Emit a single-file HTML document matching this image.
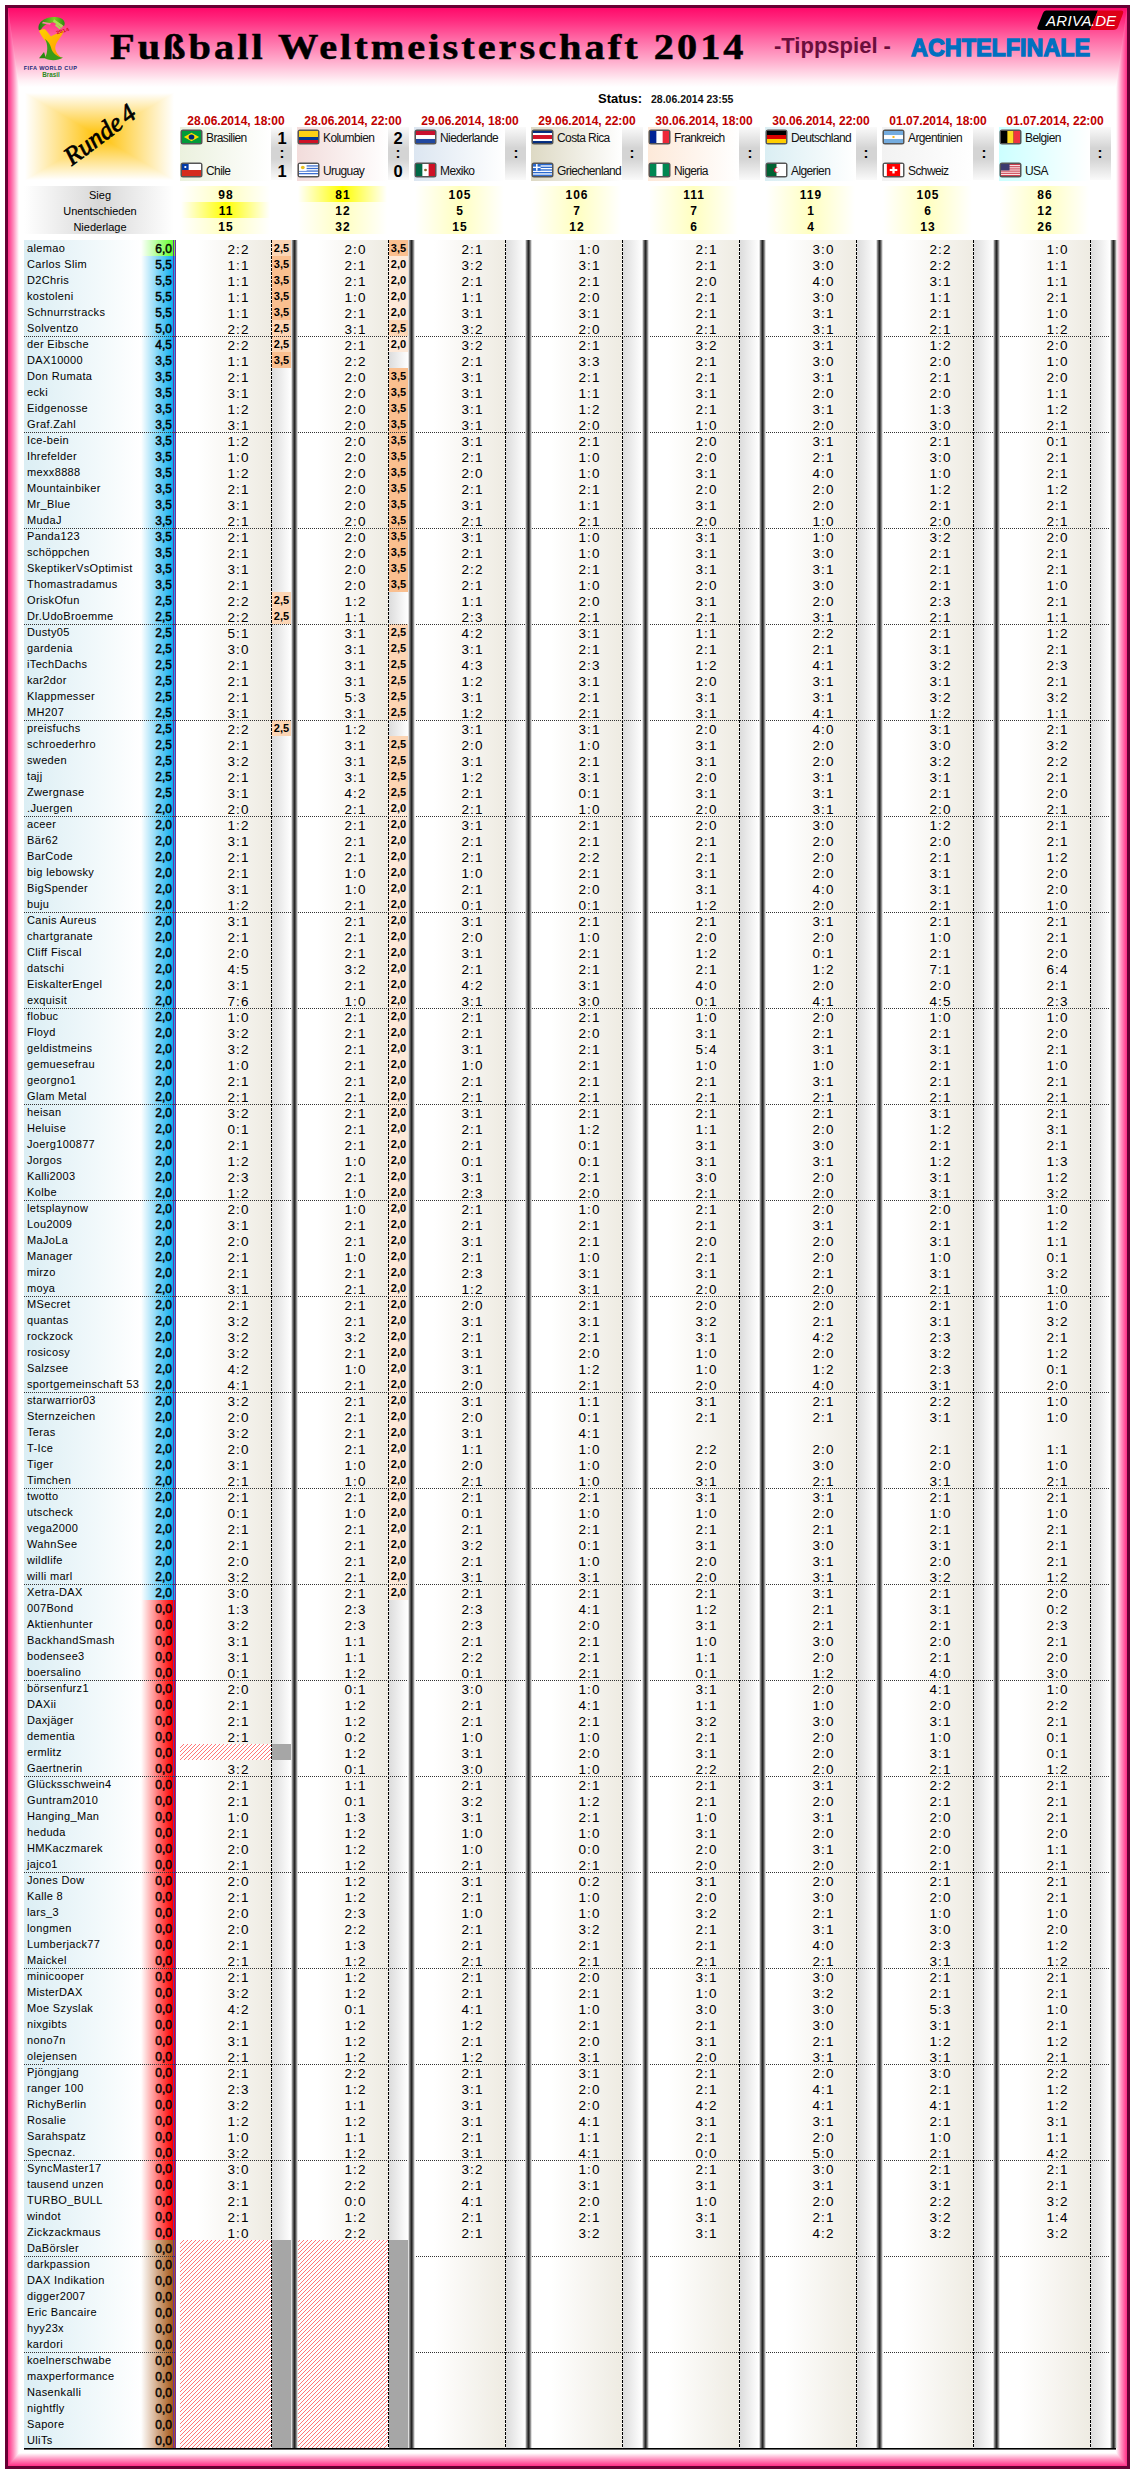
<!DOCTYPE html>
<html><head><meta charset="utf-8"><style>
*{margin:0;padding:0;box-sizing:border-box}
html,body{width:1135px;height:2474px;background:#fff;overflow:hidden}
body{position:relative;font-family:"Liberation Sans",sans-serif;color:#000}
.a{position:absolute}
.r{position:absolute;left:0;width:1135px;height:16px;white-space:nowrap}
.r>*{position:absolute;top:0;height:16px;line-height:16px;font-style:normal}
.nm{left:27px;font-size:11px;letter-spacing:0.35px;color:#000}
.sc{left:141px;width:35px;text-align:right;padding-right:4px;padding-top:1px;font-size:12px;font-weight:normal;-webkit-text-stroke:0.45px #000}
.sg{background:linear-gradient(to right,rgba(102,255,51,0),#66ff33 90%)}
.sb{background:linear-gradient(to right,rgba(0,176,240,0),#10b0f0 90%)}
.sr{background:linear-gradient(to right,rgba(255,0,0,0),#ff0000 90%)}
.sw{background:linear-gradient(to right,rgba(170,95,30,0),#a85a1a 90%)}
.t{font-size:13.5px;letter-spacing:1.1px;text-align:center;width:60px;padding-top:2px;padding-left:1px;color:#000}
.p{font-size:11px;font-weight:bold;text-align:center;width:19px}
.o2{background:#fde9d9}.o5{background:#fcd5b4}.o7{background:#fabf8f}
.pe{background:linear-gradient(to right,#dcdcdc,#fff)}
.pg{background:#a6a6a6}
.h{background:repeating-linear-gradient(-45deg,#fff 0,#fff 2px,#ff8080 2px,#ff8080 3px)}
</style></head><body>

<div class="a" style="left:5px;top:5px;width:1125px;height:2464px;background:#660033"></div>
<svg class="a" style="left:8px;top:8px" width="1119" height="2458" viewBox="8 8 1119 2458">
<defs>
<linearGradient id="gt" x1="0" y1="8" x2="0" y2="87" gradientUnits="userSpaceOnUse">
<stop offset="0" stop-color="#ff0a6a"/><stop offset="0.16" stop-color="#ff2c80"/><stop offset="0.41" stop-color="#ff6ea8"/><stop offset="0.66" stop-color="#ffaacb"/><stop offset="0.92" stop-color="#fff0f5"/><stop offset="1" stop-color="#fff"/></linearGradient>
<linearGradient id="gl" x1="8" y1="0" x2="19" y2="0" gradientUnits="userSpaceOnUse">
<stop offset="0" stop-color="#ff2d86"/><stop offset="0.5" stop-color="#ff90be"/><stop offset="1" stop-color="#fff"/></linearGradient>
<linearGradient id="gr" x1="1127" y1="0" x2="1116" y2="0" gradientUnits="userSpaceOnUse">
<stop offset="0" stop-color="#ff2d86"/><stop offset="0.5" stop-color="#ff90be"/><stop offset="1" stop-color="#fff"/></linearGradient>
<linearGradient id="gb" x1="0" y1="2466" x2="0" y2="2453" gradientUnits="userSpaceOnUse">
<stop offset="0" stop-color="#ff2d86"/><stop offset="0.5" stop-color="#ff90be"/><stop offset="1" stop-color="#fff"/></linearGradient>
</defs>
<rect x="8" y="8" width="1119" height="2458" fill="#fff"/>
<rect x="8" y="8" width="11" height="2458" fill="url(#gl)"/>
<rect x="1116" y="8" width="11" height="2458" fill="url(#gr)"/>
<polygon points="8,2466 19,2453 1116,2453 1127,2466" fill="url(#gb)"/>
<polygon points="8,8 1127,8 1116,87 19,87" fill="url(#gt)"/>
</svg>

<div class="a" style="left:24px;top:240px;width:117px;height:2208px;background:linear-gradient(to right,#dbeef4,#fff)"></div>
<div class="a" style="left:176px;top:240px;width:95px;height:2208px;background:linear-gradient(to right,#fff 22%,#eeebe2)"></div>
<div class="a" style="left:272px;top:240px;width:19px;height:2208px;background:#fff"></div>
<div class="a" style="left:297px;top:240px;width:91px;height:2208px;background:linear-gradient(to right,#fff 22%,#eeebe2)"></div>
<div class="a" style="left:389px;top:240px;width:19px;height:2208px;background:#fff"></div>
<div class="a" style="left:414px;top:240px;width:91px;height:2208px;background:linear-gradient(to right,#fff 22%,#eeebe2)"></div>
<div class="a" style="left:506px;top:240px;width:19px;height:2208px;background:linear-gradient(to right,#dcdcdc,#fff)"></div>
<div class="a" style="left:531px;top:240px;width:91px;height:2208px;background:linear-gradient(to right,#fff 22%,#eeebe2)"></div>
<div class="a" style="left:623px;top:240px;width:19px;height:2208px;background:linear-gradient(to right,#dcdcdc,#fff)"></div>
<div class="a" style="left:648px;top:240px;width:91px;height:2208px;background:linear-gradient(to right,#fff 22%,#eeebe2)"></div>
<div class="a" style="left:740px;top:240px;width:19px;height:2208px;background:linear-gradient(to right,#dcdcdc,#fff)"></div>
<div class="a" style="left:765px;top:240px;width:91px;height:2208px;background:linear-gradient(to right,#fff 22%,#eeebe2)"></div>
<div class="a" style="left:857px;top:240px;width:19px;height:2208px;background:linear-gradient(to right,#dcdcdc,#fff)"></div>
<div class="a" style="left:882px;top:240px;width:91px;height:2208px;background:linear-gradient(to right,#fff 22%,#eeebe2)"></div>
<div class="a" style="left:974px;top:240px;width:19px;height:2208px;background:linear-gradient(to right,#dcdcdc,#fff)"></div>
<div class="a" style="left:999px;top:240px;width:91px;height:2208px;background:linear-gradient(to right,#fff 22%,#eeebe2)"></div>
<div class="a" style="left:1091px;top:240px;width:19px;height:2208px;background:linear-gradient(to right,#dcdcdc,#fff)"></div>
<div class="r" style="top:240px"><i class="nm">alemao</i><b class="sc sg">6,0</b><b class="p o5" style="left:272px">2,5</b><i class="t" style="left:208px">2:2</i><b class="p o7" style="left:389px">3,5</b><i class="t" style="left:325px">2:0</i><i class="t" style="left:442px">2:1</i><i class="t" style="left:559px">1:0</i><i class="t" style="left:676px">2:1</i><i class="t" style="left:793px">3:0</i><i class="t" style="left:910px">2:2</i><i class="t" style="left:1027px">1:0</i></div>
<div class="r" style="top:256px"><i class="nm">Carlos Slim</i><b class="sc sb">5,5</b><b class="p o7" style="left:272px">3,5</b><i class="t" style="left:208px">1:1</i><b class="p o2" style="left:389px">2,0</b><i class="t" style="left:325px">2:1</i><i class="t" style="left:442px">3:2</i><i class="t" style="left:559px">3:1</i><i class="t" style="left:676px">2:1</i><i class="t" style="left:793px">3:0</i><i class="t" style="left:910px">2:2</i><i class="t" style="left:1027px">1:1</i></div>
<div class="r" style="top:272px"><i class="nm">D2Chris</i><b class="sc sb">5,5</b><b class="p o7" style="left:272px">3,5</b><i class="t" style="left:208px">1:1</i><b class="p o2" style="left:389px">2,0</b><i class="t" style="left:325px">2:1</i><i class="t" style="left:442px">2:1</i><i class="t" style="left:559px">2:1</i><i class="t" style="left:676px">2:0</i><i class="t" style="left:793px">4:0</i><i class="t" style="left:910px">3:1</i><i class="t" style="left:1027px">1:1</i></div>
<div class="r" style="top:288px"><i class="nm">kostoleni</i><b class="sc sb">5,5</b><b class="p o7" style="left:272px">3,5</b><i class="t" style="left:208px">1:1</i><b class="p o2" style="left:389px">2,0</b><i class="t" style="left:325px">1:0</i><i class="t" style="left:442px">1:1</i><i class="t" style="left:559px">2:0</i><i class="t" style="left:676px">2:1</i><i class="t" style="left:793px">3:0</i><i class="t" style="left:910px">1:1</i><i class="t" style="left:1027px">2:1</i></div>
<div class="r" style="top:304px"><i class="nm">Schnurrstracks</i><b class="sc sb">5,5</b><b class="p o7" style="left:272px">3,5</b><i class="t" style="left:208px">1:1</i><b class="p o2" style="left:389px">2,0</b><i class="t" style="left:325px">2:1</i><i class="t" style="left:442px">3:1</i><i class="t" style="left:559px">3:1</i><i class="t" style="left:676px">2:1</i><i class="t" style="left:793px">3:1</i><i class="t" style="left:910px">2:1</i><i class="t" style="left:1027px">1:0</i></div>
<div class="r" style="top:320px"><i class="nm">Solventzo</i><b class="sc sb">5,0</b><b class="p o5" style="left:272px">2,5</b><i class="t" style="left:208px">2:2</i><b class="p o5" style="left:389px">2,5</b><i class="t" style="left:325px">3:1</i><i class="t" style="left:442px">3:2</i><i class="t" style="left:559px">2:0</i><i class="t" style="left:676px">2:1</i><i class="t" style="left:793px">3:1</i><i class="t" style="left:910px">2:1</i><i class="t" style="left:1027px">1:2</i></div>
<div class="r" style="top:336px"><i class="nm">der Eibsche</i><b class="sc sb">4,5</b><b class="p o5" style="left:272px">2,5</b><i class="t" style="left:208px">2:2</i><b class="p o2" style="left:389px">2,0</b><i class="t" style="left:325px">2:1</i><i class="t" style="left:442px">3:2</i><i class="t" style="left:559px">2:1</i><i class="t" style="left:676px">3:2</i><i class="t" style="left:793px">3:1</i><i class="t" style="left:910px">1:2</i><i class="t" style="left:1027px">2:0</i></div>
<div class="r" style="top:352px"><i class="nm">DAX10000</i><b class="sc sb">3,5</b><b class="p o7" style="left:272px">3,5</b><i class="t" style="left:208px">1:1</i><i class="p pe" style="left:389px"></i><i class="t" style="left:325px">2:2</i><i class="t" style="left:442px">2:1</i><i class="t" style="left:559px">3:3</i><i class="t" style="left:676px">2:1</i><i class="t" style="left:793px">3:0</i><i class="t" style="left:910px">2:0</i><i class="t" style="left:1027px">1:0</i></div>
<div class="r" style="top:368px"><i class="nm">Don Rumata</i><b class="sc sb">3,5</b><i class="p pe" style="left:272px"></i><i class="t" style="left:208px">2:1</i><b class="p o7" style="left:389px">3,5</b><i class="t" style="left:325px">2:0</i><i class="t" style="left:442px">3:1</i><i class="t" style="left:559px">2:1</i><i class="t" style="left:676px">2:1</i><i class="t" style="left:793px">3:1</i><i class="t" style="left:910px">2:1</i><i class="t" style="left:1027px">2:0</i></div>
<div class="r" style="top:384px"><i class="nm">ecki</i><b class="sc sb">3,5</b><i class="p pe" style="left:272px"></i><i class="t" style="left:208px">3:1</i><b class="p o7" style="left:389px">3,5</b><i class="t" style="left:325px">2:0</i><i class="t" style="left:442px">3:1</i><i class="t" style="left:559px">1:1</i><i class="t" style="left:676px">3:1</i><i class="t" style="left:793px">2:0</i><i class="t" style="left:910px">2:0</i><i class="t" style="left:1027px">1:1</i></div>
<div class="r" style="top:400px"><i class="nm">Eidgenosse</i><b class="sc sb">3,5</b><i class="p pe" style="left:272px"></i><i class="t" style="left:208px">1:2</i><b class="p o7" style="left:389px">3,5</b><i class="t" style="left:325px">2:0</i><i class="t" style="left:442px">3:1</i><i class="t" style="left:559px">1:2</i><i class="t" style="left:676px">2:1</i><i class="t" style="left:793px">3:1</i><i class="t" style="left:910px">1:3</i><i class="t" style="left:1027px">1:2</i></div>
<div class="r" style="top:416px"><i class="nm">Graf.Zahl</i><b class="sc sb">3,5</b><i class="p pe" style="left:272px"></i><i class="t" style="left:208px">3:1</i><b class="p o7" style="left:389px">3,5</b><i class="t" style="left:325px">2:0</i><i class="t" style="left:442px">3:1</i><i class="t" style="left:559px">2:0</i><i class="t" style="left:676px">1:0</i><i class="t" style="left:793px">2:0</i><i class="t" style="left:910px">3:0</i><i class="t" style="left:1027px">2:1</i></div>
<div class="r" style="top:432px"><i class="nm">Ice-bein</i><b class="sc sb">3,5</b><i class="p pe" style="left:272px"></i><i class="t" style="left:208px">1:2</i><b class="p o7" style="left:389px">3,5</b><i class="t" style="left:325px">2:0</i><i class="t" style="left:442px">3:1</i><i class="t" style="left:559px">2:1</i><i class="t" style="left:676px">2:0</i><i class="t" style="left:793px">3:1</i><i class="t" style="left:910px">2:1</i><i class="t" style="left:1027px">0:1</i></div>
<div class="r" style="top:448px"><i class="nm">Ihrefelder</i><b class="sc sb">3,5</b><i class="p pe" style="left:272px"></i><i class="t" style="left:208px">1:0</i><b class="p o7" style="left:389px">3,5</b><i class="t" style="left:325px">2:0</i><i class="t" style="left:442px">2:1</i><i class="t" style="left:559px">1:0</i><i class="t" style="left:676px">2:0</i><i class="t" style="left:793px">2:1</i><i class="t" style="left:910px">3:0</i><i class="t" style="left:1027px">2:1</i></div>
<div class="r" style="top:464px"><i class="nm">mexx8888</i><b class="sc sb">3,5</b><i class="p pe" style="left:272px"></i><i class="t" style="left:208px">1:2</i><b class="p o7" style="left:389px">3,5</b><i class="t" style="left:325px">2:0</i><i class="t" style="left:442px">2:0</i><i class="t" style="left:559px">1:0</i><i class="t" style="left:676px">3:1</i><i class="t" style="left:793px">4:0</i><i class="t" style="left:910px">1:0</i><i class="t" style="left:1027px">2:1</i></div>
<div class="r" style="top:480px"><i class="nm">Mountainbiker</i><b class="sc sb">3,5</b><i class="p pe" style="left:272px"></i><i class="t" style="left:208px">2:1</i><b class="p o7" style="left:389px">3,5</b><i class="t" style="left:325px">2:0</i><i class="t" style="left:442px">2:1</i><i class="t" style="left:559px">2:1</i><i class="t" style="left:676px">2:0</i><i class="t" style="left:793px">2:0</i><i class="t" style="left:910px">1:2</i><i class="t" style="left:1027px">1:2</i></div>
<div class="r" style="top:496px"><i class="nm">Mr_Blue</i><b class="sc sb">3,5</b><i class="p pe" style="left:272px"></i><i class="t" style="left:208px">3:1</i><b class="p o7" style="left:389px">3,5</b><i class="t" style="left:325px">2:0</i><i class="t" style="left:442px">3:1</i><i class="t" style="left:559px">1:1</i><i class="t" style="left:676px">3:1</i><i class="t" style="left:793px">2:0</i><i class="t" style="left:910px">2:1</i><i class="t" style="left:1027px">2:1</i></div>
<div class="r" style="top:512px"><i class="nm">MudaJ</i><b class="sc sb">3,5</b><i class="p pe" style="left:272px"></i><i class="t" style="left:208px">2:1</i><b class="p o7" style="left:389px">3,5</b><i class="t" style="left:325px">2:0</i><i class="t" style="left:442px">2:1</i><i class="t" style="left:559px">2:1</i><i class="t" style="left:676px">2:0</i><i class="t" style="left:793px">1:0</i><i class="t" style="left:910px">2:0</i><i class="t" style="left:1027px">2:1</i></div>
<div class="r" style="top:528px"><i class="nm">Panda123</i><b class="sc sb">3,5</b><i class="p pe" style="left:272px"></i><i class="t" style="left:208px">2:1</i><b class="p o7" style="left:389px">3,5</b><i class="t" style="left:325px">2:0</i><i class="t" style="left:442px">3:1</i><i class="t" style="left:559px">1:0</i><i class="t" style="left:676px">3:1</i><i class="t" style="left:793px">1:0</i><i class="t" style="left:910px">3:2</i><i class="t" style="left:1027px">2:0</i></div>
<div class="r" style="top:544px"><i class="nm">schöppchen</i><b class="sc sb">3,5</b><i class="p pe" style="left:272px"></i><i class="t" style="left:208px">2:1</i><b class="p o7" style="left:389px">3,5</b><i class="t" style="left:325px">2:0</i><i class="t" style="left:442px">2:1</i><i class="t" style="left:559px">1:0</i><i class="t" style="left:676px">3:1</i><i class="t" style="left:793px">3:0</i><i class="t" style="left:910px">2:1</i><i class="t" style="left:1027px">2:1</i></div>
<div class="r" style="top:560px"><i class="nm">SkeptikerVsOptimist</i><b class="sc sb">3,5</b><i class="p pe" style="left:272px"></i><i class="t" style="left:208px">3:1</i><b class="p o7" style="left:389px">3,5</b><i class="t" style="left:325px">2:0</i><i class="t" style="left:442px">2:2</i><i class="t" style="left:559px">2:1</i><i class="t" style="left:676px">3:1</i><i class="t" style="left:793px">3:1</i><i class="t" style="left:910px">2:1</i><i class="t" style="left:1027px">2:1</i></div>
<div class="r" style="top:576px"><i class="nm">Thomastradamus</i><b class="sc sb">3,5</b><i class="p pe" style="left:272px"></i><i class="t" style="left:208px">2:1</i><b class="p o7" style="left:389px">3,5</b><i class="t" style="left:325px">2:0</i><i class="t" style="left:442px">2:1</i><i class="t" style="left:559px">1:0</i><i class="t" style="left:676px">2:0</i><i class="t" style="left:793px">3:0</i><i class="t" style="left:910px">2:1</i><i class="t" style="left:1027px">1:0</i></div>
<div class="r" style="top:592px"><i class="nm">OriskOfun</i><b class="sc sb">2,5</b><b class="p o5" style="left:272px">2,5</b><i class="t" style="left:208px">2:2</i><i class="p pe" style="left:389px"></i><i class="t" style="left:325px">1:2</i><i class="t" style="left:442px">1:1</i><i class="t" style="left:559px">2:0</i><i class="t" style="left:676px">3:1</i><i class="t" style="left:793px">2:0</i><i class="t" style="left:910px">2:3</i><i class="t" style="left:1027px">2:1</i></div>
<div class="r" style="top:608px"><i class="nm">Dr.UdoBroemme</i><b class="sc sb">2,5</b><b class="p o5" style="left:272px">2,5</b><i class="t" style="left:208px">2:2</i><i class="p pe" style="left:389px"></i><i class="t" style="left:325px">1:1</i><i class="t" style="left:442px">2:3</i><i class="t" style="left:559px">2:1</i><i class="t" style="left:676px">2:1</i><i class="t" style="left:793px">3:1</i><i class="t" style="left:910px">2:1</i><i class="t" style="left:1027px">1:1</i></div>
<div class="r" style="top:624px"><i class="nm">Dusty05</i><b class="sc sb">2,5</b><i class="p pe" style="left:272px"></i><i class="t" style="left:208px">5:1</i><b class="p o5" style="left:389px">2,5</b><i class="t" style="left:325px">3:1</i><i class="t" style="left:442px">4:2</i><i class="t" style="left:559px">3:1</i><i class="t" style="left:676px">1:1</i><i class="t" style="left:793px">2:2</i><i class="t" style="left:910px">2:1</i><i class="t" style="left:1027px">1:2</i></div>
<div class="r" style="top:640px"><i class="nm">gardenia</i><b class="sc sb">2,5</b><i class="p pe" style="left:272px"></i><i class="t" style="left:208px">3:0</i><b class="p o5" style="left:389px">2,5</b><i class="t" style="left:325px">3:1</i><i class="t" style="left:442px">3:1</i><i class="t" style="left:559px">2:1</i><i class="t" style="left:676px">2:1</i><i class="t" style="left:793px">2:1</i><i class="t" style="left:910px">3:1</i><i class="t" style="left:1027px">2:1</i></div>
<div class="r" style="top:656px"><i class="nm">iTechDachs</i><b class="sc sb">2,5</b><i class="p pe" style="left:272px"></i><i class="t" style="left:208px">2:1</i><b class="p o5" style="left:389px">2,5</b><i class="t" style="left:325px">3:1</i><i class="t" style="left:442px">4:3</i><i class="t" style="left:559px">2:3</i><i class="t" style="left:676px">1:2</i><i class="t" style="left:793px">4:1</i><i class="t" style="left:910px">3:2</i><i class="t" style="left:1027px">2:3</i></div>
<div class="r" style="top:672px"><i class="nm">kar2dor</i><b class="sc sb">2,5</b><i class="p pe" style="left:272px"></i><i class="t" style="left:208px">2:1</i><b class="p o5" style="left:389px">2,5</b><i class="t" style="left:325px">3:1</i><i class="t" style="left:442px">1:2</i><i class="t" style="left:559px">3:1</i><i class="t" style="left:676px">2:0</i><i class="t" style="left:793px">3:1</i><i class="t" style="left:910px">3:1</i><i class="t" style="left:1027px">2:1</i></div>
<div class="r" style="top:688px"><i class="nm">Klappmesser</i><b class="sc sb">2,5</b><i class="p pe" style="left:272px"></i><i class="t" style="left:208px">2:1</i><b class="p o5" style="left:389px">2,5</b><i class="t" style="left:325px">5:3</i><i class="t" style="left:442px">3:1</i><i class="t" style="left:559px">2:1</i><i class="t" style="left:676px">3:1</i><i class="t" style="left:793px">3:1</i><i class="t" style="left:910px">3:2</i><i class="t" style="left:1027px">3:2</i></div>
<div class="r" style="top:704px"><i class="nm">MH207</i><b class="sc sb">2,5</b><i class="p pe" style="left:272px"></i><i class="t" style="left:208px">3:1</i><b class="p o5" style="left:389px">2,5</b><i class="t" style="left:325px">3:1</i><i class="t" style="left:442px">1:2</i><i class="t" style="left:559px">2:1</i><i class="t" style="left:676px">3:1</i><i class="t" style="left:793px">4:1</i><i class="t" style="left:910px">1:2</i><i class="t" style="left:1027px">1:1</i></div>
<div class="r" style="top:720px"><i class="nm">preisfuchs</i><b class="sc sb">2,5</b><b class="p o5" style="left:272px">2,5</b><i class="t" style="left:208px">2:2</i><i class="p pe" style="left:389px"></i><i class="t" style="left:325px">1:2</i><i class="t" style="left:442px">3:1</i><i class="t" style="left:559px">3:1</i><i class="t" style="left:676px">2:0</i><i class="t" style="left:793px">4:0</i><i class="t" style="left:910px">3:1</i><i class="t" style="left:1027px">2:1</i></div>
<div class="r" style="top:736px"><i class="nm">schroederhro</i><b class="sc sb">2,5</b><i class="p pe" style="left:272px"></i><i class="t" style="left:208px">2:1</i><b class="p o5" style="left:389px">2,5</b><i class="t" style="left:325px">3:1</i><i class="t" style="left:442px">2:0</i><i class="t" style="left:559px">1:0</i><i class="t" style="left:676px">3:1</i><i class="t" style="left:793px">2:0</i><i class="t" style="left:910px">3:0</i><i class="t" style="left:1027px">3:2</i></div>
<div class="r" style="top:752px"><i class="nm">sweden</i><b class="sc sb">2,5</b><i class="p pe" style="left:272px"></i><i class="t" style="left:208px">3:2</i><b class="p o5" style="left:389px">2,5</b><i class="t" style="left:325px">3:1</i><i class="t" style="left:442px">3:1</i><i class="t" style="left:559px">2:1</i><i class="t" style="left:676px">3:1</i><i class="t" style="left:793px">2:0</i><i class="t" style="left:910px">3:2</i><i class="t" style="left:1027px">2:2</i></div>
<div class="r" style="top:768px"><i class="nm">tajj</i><b class="sc sb">2,5</b><i class="p pe" style="left:272px"></i><i class="t" style="left:208px">2:1</i><b class="p o5" style="left:389px">2,5</b><i class="t" style="left:325px">3:1</i><i class="t" style="left:442px">1:2</i><i class="t" style="left:559px">3:1</i><i class="t" style="left:676px">2:0</i><i class="t" style="left:793px">3:1</i><i class="t" style="left:910px">3:1</i><i class="t" style="left:1027px">2:1</i></div>
<div class="r" style="top:784px"><i class="nm">Zwergnase</i><b class="sc sb">2,5</b><i class="p pe" style="left:272px"></i><i class="t" style="left:208px">3:1</i><b class="p o5" style="left:389px">2,5</b><i class="t" style="left:325px">4:2</i><i class="t" style="left:442px">2:1</i><i class="t" style="left:559px">0:1</i><i class="t" style="left:676px">3:1</i><i class="t" style="left:793px">3:1</i><i class="t" style="left:910px">2:1</i><i class="t" style="left:1027px">2:0</i></div>
<div class="r" style="top:800px"><i class="nm">.Juergen</i><b class="sc sb">2,0</b><i class="p pe" style="left:272px"></i><i class="t" style="left:208px">2:0</i><b class="p o2" style="left:389px">2,0</b><i class="t" style="left:325px">2:1</i><i class="t" style="left:442px">2:1</i><i class="t" style="left:559px">1:0</i><i class="t" style="left:676px">2:0</i><i class="t" style="left:793px">3:1</i><i class="t" style="left:910px">2:0</i><i class="t" style="left:1027px">2:1</i></div>
<div class="r" style="top:816px"><i class="nm">aceer</i><b class="sc sb">2,0</b><i class="p pe" style="left:272px"></i><i class="t" style="left:208px">1:2</i><b class="p o2" style="left:389px">2,0</b><i class="t" style="left:325px">2:1</i><i class="t" style="left:442px">3:1</i><i class="t" style="left:559px">2:1</i><i class="t" style="left:676px">2:0</i><i class="t" style="left:793px">3:0</i><i class="t" style="left:910px">1:2</i><i class="t" style="left:1027px">2:1</i></div>
<div class="r" style="top:832px"><i class="nm">Bär62</i><b class="sc sb">2,0</b><i class="p pe" style="left:272px"></i><i class="t" style="left:208px">3:1</i><b class="p o2" style="left:389px">2,0</b><i class="t" style="left:325px">2:1</i><i class="t" style="left:442px">2:1</i><i class="t" style="left:559px">2:1</i><i class="t" style="left:676px">2:1</i><i class="t" style="left:793px">2:0</i><i class="t" style="left:910px">2:0</i><i class="t" style="left:1027px">2:1</i></div>
<div class="r" style="top:848px"><i class="nm">BarCode</i><b class="sc sb">2,0</b><i class="p pe" style="left:272px"></i><i class="t" style="left:208px">2:1</i><b class="p o2" style="left:389px">2,0</b><i class="t" style="left:325px">2:1</i><i class="t" style="left:442px">2:1</i><i class="t" style="left:559px">2:2</i><i class="t" style="left:676px">2:1</i><i class="t" style="left:793px">2:0</i><i class="t" style="left:910px">2:1</i><i class="t" style="left:1027px">1:2</i></div>
<div class="r" style="top:864px"><i class="nm">big lebowsky</i><b class="sc sb">2,0</b><i class="p pe" style="left:272px"></i><i class="t" style="left:208px">2:1</i><b class="p o2" style="left:389px">2,0</b><i class="t" style="left:325px">1:0</i><i class="t" style="left:442px">1:0</i><i class="t" style="left:559px">2:1</i><i class="t" style="left:676px">3:1</i><i class="t" style="left:793px">2:0</i><i class="t" style="left:910px">3:1</i><i class="t" style="left:1027px">2:0</i></div>
<div class="r" style="top:880px"><i class="nm">BigSpender</i><b class="sc sb">2,0</b><i class="p pe" style="left:272px"></i><i class="t" style="left:208px">3:1</i><b class="p o2" style="left:389px">2,0</b><i class="t" style="left:325px">1:0</i><i class="t" style="left:442px">2:1</i><i class="t" style="left:559px">2:0</i><i class="t" style="left:676px">3:1</i><i class="t" style="left:793px">4:0</i><i class="t" style="left:910px">3:1</i><i class="t" style="left:1027px">2:0</i></div>
<div class="r" style="top:896px"><i class="nm">buju</i><b class="sc sb">2,0</b><i class="p pe" style="left:272px"></i><i class="t" style="left:208px">1:2</i><b class="p o2" style="left:389px">2,0</b><i class="t" style="left:325px">2:1</i><i class="t" style="left:442px">0:1</i><i class="t" style="left:559px">0:1</i><i class="t" style="left:676px">1:2</i><i class="t" style="left:793px">2:0</i><i class="t" style="left:910px">2:1</i><i class="t" style="left:1027px">1:0</i></div>
<div class="r" style="top:912px"><i class="nm">Canis Aureus</i><b class="sc sb">2,0</b><i class="p pe" style="left:272px"></i><i class="t" style="left:208px">3:1</i><b class="p o2" style="left:389px">2,0</b><i class="t" style="left:325px">2:1</i><i class="t" style="left:442px">3:1</i><i class="t" style="left:559px">2:1</i><i class="t" style="left:676px">2:1</i><i class="t" style="left:793px">3:1</i><i class="t" style="left:910px">2:1</i><i class="t" style="left:1027px">2:1</i></div>
<div class="r" style="top:928px"><i class="nm">chartgranate</i><b class="sc sb">2,0</b><i class="p pe" style="left:272px"></i><i class="t" style="left:208px">2:1</i><b class="p o2" style="left:389px">2,0</b><i class="t" style="left:325px">2:1</i><i class="t" style="left:442px">2:0</i><i class="t" style="left:559px">1:0</i><i class="t" style="left:676px">2:0</i><i class="t" style="left:793px">2:0</i><i class="t" style="left:910px">1:0</i><i class="t" style="left:1027px">2:1</i></div>
<div class="r" style="top:944px"><i class="nm">Cliff Fiscal</i><b class="sc sb">2,0</b><i class="p pe" style="left:272px"></i><i class="t" style="left:208px">2:0</i><b class="p o2" style="left:389px">2,0</b><i class="t" style="left:325px">2:1</i><i class="t" style="left:442px">3:1</i><i class="t" style="left:559px">2:1</i><i class="t" style="left:676px">1:2</i><i class="t" style="left:793px">0:1</i><i class="t" style="left:910px">2:1</i><i class="t" style="left:1027px">2:0</i></div>
<div class="r" style="top:960px"><i class="nm">datschi</i><b class="sc sb">2,0</b><i class="p pe" style="left:272px"></i><i class="t" style="left:208px">4:5</i><b class="p o2" style="left:389px">2,0</b><i class="t" style="left:325px">3:2</i><i class="t" style="left:442px">2:1</i><i class="t" style="left:559px">2:1</i><i class="t" style="left:676px">2:1</i><i class="t" style="left:793px">1:2</i><i class="t" style="left:910px">7:1</i><i class="t" style="left:1027px">6:4</i></div>
<div class="r" style="top:976px"><i class="nm">EiskalterEngel</i><b class="sc sb">2,0</b><i class="p pe" style="left:272px"></i><i class="t" style="left:208px">3:1</i><b class="p o2" style="left:389px">2,0</b><i class="t" style="left:325px">2:1</i><i class="t" style="left:442px">4:2</i><i class="t" style="left:559px">3:1</i><i class="t" style="left:676px">4:0</i><i class="t" style="left:793px">2:0</i><i class="t" style="left:910px">2:0</i><i class="t" style="left:1027px">2:1</i></div>
<div class="r" style="top:992px"><i class="nm">exquisit</i><b class="sc sb">2,0</b><i class="p pe" style="left:272px"></i><i class="t" style="left:208px">7:6</i><b class="p o2" style="left:389px">2,0</b><i class="t" style="left:325px">1:0</i><i class="t" style="left:442px">3:1</i><i class="t" style="left:559px">3:0</i><i class="t" style="left:676px">0:1</i><i class="t" style="left:793px">4:1</i><i class="t" style="left:910px">4:5</i><i class="t" style="left:1027px">2:3</i></div>
<div class="r" style="top:1008px"><i class="nm">flobuc</i><b class="sc sb">2,0</b><i class="p pe" style="left:272px"></i><i class="t" style="left:208px">1:0</i><b class="p o2" style="left:389px">2,0</b><i class="t" style="left:325px">2:1</i><i class="t" style="left:442px">2:1</i><i class="t" style="left:559px">2:1</i><i class="t" style="left:676px">1:0</i><i class="t" style="left:793px">2:0</i><i class="t" style="left:910px">1:0</i><i class="t" style="left:1027px">1:0</i></div>
<div class="r" style="top:1024px"><i class="nm">Floyd</i><b class="sc sb">2,0</b><i class="p pe" style="left:272px"></i><i class="t" style="left:208px">3:2</i><b class="p o2" style="left:389px">2,0</b><i class="t" style="left:325px">2:1</i><i class="t" style="left:442px">2:1</i><i class="t" style="left:559px">2:0</i><i class="t" style="left:676px">3:1</i><i class="t" style="left:793px">2:1</i><i class="t" style="left:910px">2:1</i><i class="t" style="left:1027px">2:0</i></div>
<div class="r" style="top:1040px"><i class="nm">geldistmeins</i><b class="sc sb">2,0</b><i class="p pe" style="left:272px"></i><i class="t" style="left:208px">3:2</i><b class="p o2" style="left:389px">2,0</b><i class="t" style="left:325px">2:1</i><i class="t" style="left:442px">3:1</i><i class="t" style="left:559px">2:1</i><i class="t" style="left:676px">5:4</i><i class="t" style="left:793px">3:1</i><i class="t" style="left:910px">3:1</i><i class="t" style="left:1027px">2:1</i></div>
<div class="r" style="top:1056px"><i class="nm">gemuesefrau</i><b class="sc sb">2,0</b><i class="p pe" style="left:272px"></i><i class="t" style="left:208px">1:0</i><b class="p o2" style="left:389px">2,0</b><i class="t" style="left:325px">2:1</i><i class="t" style="left:442px">1:0</i><i class="t" style="left:559px">2:1</i><i class="t" style="left:676px">1:0</i><i class="t" style="left:793px">1:0</i><i class="t" style="left:910px">2:1</i><i class="t" style="left:1027px">1:0</i></div>
<div class="r" style="top:1072px"><i class="nm">georgno1</i><b class="sc sb">2,0</b><i class="p pe" style="left:272px"></i><i class="t" style="left:208px">2:1</i><b class="p o2" style="left:389px">2,0</b><i class="t" style="left:325px">2:1</i><i class="t" style="left:442px">2:1</i><i class="t" style="left:559px">2:1</i><i class="t" style="left:676px">2:1</i><i class="t" style="left:793px">3:1</i><i class="t" style="left:910px">2:1</i><i class="t" style="left:1027px">2:1</i></div>
<div class="r" style="top:1088px"><i class="nm">Glam Metal</i><b class="sc sb">2,0</b><i class="p pe" style="left:272px"></i><i class="t" style="left:208px">2:1</i><b class="p o2" style="left:389px">2,0</b><i class="t" style="left:325px">2:1</i><i class="t" style="left:442px">2:1</i><i class="t" style="left:559px">2:1</i><i class="t" style="left:676px">2:1</i><i class="t" style="left:793px">2:1</i><i class="t" style="left:910px">2:1</i><i class="t" style="left:1027px">2:1</i></div>
<div class="r" style="top:1104px"><i class="nm">heisan</i><b class="sc sb">2,0</b><i class="p pe" style="left:272px"></i><i class="t" style="left:208px">3:2</i><b class="p o2" style="left:389px">2,0</b><i class="t" style="left:325px">2:1</i><i class="t" style="left:442px">3:1</i><i class="t" style="left:559px">2:1</i><i class="t" style="left:676px">2:1</i><i class="t" style="left:793px">2:1</i><i class="t" style="left:910px">3:1</i><i class="t" style="left:1027px">2:1</i></div>
<div class="r" style="top:1120px"><i class="nm">Heluise</i><b class="sc sb">2,0</b><i class="p pe" style="left:272px"></i><i class="t" style="left:208px">0:1</i><b class="p o2" style="left:389px">2,0</b><i class="t" style="left:325px">2:1</i><i class="t" style="left:442px">2:1</i><i class="t" style="left:559px">1:2</i><i class="t" style="left:676px">1:1</i><i class="t" style="left:793px">2:0</i><i class="t" style="left:910px">1:2</i><i class="t" style="left:1027px">3:1</i></div>
<div class="r" style="top:1136px"><i class="nm">Joerg100877</i><b class="sc sb">2,0</b><i class="p pe" style="left:272px"></i><i class="t" style="left:208px">2:1</i><b class="p o2" style="left:389px">2,0</b><i class="t" style="left:325px">2:1</i><i class="t" style="left:442px">2:1</i><i class="t" style="left:559px">0:1</i><i class="t" style="left:676px">3:1</i><i class="t" style="left:793px">3:0</i><i class="t" style="left:910px">2:1</i><i class="t" style="left:1027px">2:1</i></div>
<div class="r" style="top:1152px"><i class="nm">Jorgos</i><b class="sc sb">2,0</b><i class="p pe" style="left:272px"></i><i class="t" style="left:208px">1:2</i><b class="p o2" style="left:389px">2,0</b><i class="t" style="left:325px">1:0</i><i class="t" style="left:442px">0:1</i><i class="t" style="left:559px">0:1</i><i class="t" style="left:676px">3:1</i><i class="t" style="left:793px">3:1</i><i class="t" style="left:910px">1:2</i><i class="t" style="left:1027px">1:3</i></div>
<div class="r" style="top:1168px"><i class="nm">Kalli2003</i><b class="sc sb">2,0</b><i class="p pe" style="left:272px"></i><i class="t" style="left:208px">2:3</i><b class="p o2" style="left:389px">2,0</b><i class="t" style="left:325px">2:1</i><i class="t" style="left:442px">3:1</i><i class="t" style="left:559px">2:1</i><i class="t" style="left:676px">3:0</i><i class="t" style="left:793px">2:0</i><i class="t" style="left:910px">3:1</i><i class="t" style="left:1027px">1:2</i></div>
<div class="r" style="top:1184px"><i class="nm">Kolbe</i><b class="sc sb">2,0</b><i class="p pe" style="left:272px"></i><i class="t" style="left:208px">1:2</i><b class="p o2" style="left:389px">2,0</b><i class="t" style="left:325px">1:0</i><i class="t" style="left:442px">2:3</i><i class="t" style="left:559px">2:0</i><i class="t" style="left:676px">2:1</i><i class="t" style="left:793px">2:0</i><i class="t" style="left:910px">3:1</i><i class="t" style="left:1027px">3:2</i></div>
<div class="r" style="top:1200px"><i class="nm">letsplaynow</i><b class="sc sb">2,0</b><i class="p pe" style="left:272px"></i><i class="t" style="left:208px">2:0</i><b class="p o2" style="left:389px">2,0</b><i class="t" style="left:325px">1:0</i><i class="t" style="left:442px">2:1</i><i class="t" style="left:559px">1:0</i><i class="t" style="left:676px">2:1</i><i class="t" style="left:793px">2:0</i><i class="t" style="left:910px">2:0</i><i class="t" style="left:1027px">1:0</i></div>
<div class="r" style="top:1216px"><i class="nm">Lou2009</i><b class="sc sb">2,0</b><i class="p pe" style="left:272px"></i><i class="t" style="left:208px">3:1</i><b class="p o2" style="left:389px">2,0</b><i class="t" style="left:325px">2:1</i><i class="t" style="left:442px">2:1</i><i class="t" style="left:559px">2:1</i><i class="t" style="left:676px">2:1</i><i class="t" style="left:793px">3:1</i><i class="t" style="left:910px">2:1</i><i class="t" style="left:1027px">1:2</i></div>
<div class="r" style="top:1232px"><i class="nm">MaJoLa</i><b class="sc sb">2,0</b><i class="p pe" style="left:272px"></i><i class="t" style="left:208px">2:0</i><b class="p o2" style="left:389px">2,0</b><i class="t" style="left:325px">2:1</i><i class="t" style="left:442px">3:1</i><i class="t" style="left:559px">2:1</i><i class="t" style="left:676px">2:0</i><i class="t" style="left:793px">2:0</i><i class="t" style="left:910px">3:1</i><i class="t" style="left:1027px">1:1</i></div>
<div class="r" style="top:1248px"><i class="nm">Manager</i><b class="sc sb">2,0</b><i class="p pe" style="left:272px"></i><i class="t" style="left:208px">2:1</i><b class="p o2" style="left:389px">2,0</b><i class="t" style="left:325px">1:0</i><i class="t" style="left:442px">2:1</i><i class="t" style="left:559px">1:0</i><i class="t" style="left:676px">2:1</i><i class="t" style="left:793px">2:0</i><i class="t" style="left:910px">1:0</i><i class="t" style="left:1027px">0:1</i></div>
<div class="r" style="top:1264px"><i class="nm">mirzo</i><b class="sc sb">2,0</b><i class="p pe" style="left:272px"></i><i class="t" style="left:208px">2:1</i><b class="p o2" style="left:389px">2,0</b><i class="t" style="left:325px">2:1</i><i class="t" style="left:442px">2:3</i><i class="t" style="left:559px">3:1</i><i class="t" style="left:676px">3:1</i><i class="t" style="left:793px">2:1</i><i class="t" style="left:910px">3:1</i><i class="t" style="left:1027px">3:2</i></div>
<div class="r" style="top:1280px"><i class="nm">moya</i><b class="sc sb">2,0</b><i class="p pe" style="left:272px"></i><i class="t" style="left:208px">3:1</i><b class="p o2" style="left:389px">2,0</b><i class="t" style="left:325px">2:1</i><i class="t" style="left:442px">1:2</i><i class="t" style="left:559px">3:1</i><i class="t" style="left:676px">2:0</i><i class="t" style="left:793px">2:0</i><i class="t" style="left:910px">2:1</i><i class="t" style="left:1027px">1:0</i></div>
<div class="r" style="top:1296px"><i class="nm">MSecret</i><b class="sc sb">2,0</b><i class="p pe" style="left:272px"></i><i class="t" style="left:208px">2:1</i><b class="p o2" style="left:389px">2,0</b><i class="t" style="left:325px">2:1</i><i class="t" style="left:442px">2:0</i><i class="t" style="left:559px">2:1</i><i class="t" style="left:676px">2:0</i><i class="t" style="left:793px">2:0</i><i class="t" style="left:910px">2:1</i><i class="t" style="left:1027px">1:0</i></div>
<div class="r" style="top:1312px"><i class="nm">quantas</i><b class="sc sb">2,0</b><i class="p pe" style="left:272px"></i><i class="t" style="left:208px">3:2</i><b class="p o2" style="left:389px">2,0</b><i class="t" style="left:325px">2:1</i><i class="t" style="left:442px">3:1</i><i class="t" style="left:559px">3:1</i><i class="t" style="left:676px">3:2</i><i class="t" style="left:793px">2:1</i><i class="t" style="left:910px">3:1</i><i class="t" style="left:1027px">3:2</i></div>
<div class="r" style="top:1328px"><i class="nm">rockzock</i><b class="sc sb">2,0</b><i class="p pe" style="left:272px"></i><i class="t" style="left:208px">3:2</i><b class="p o2" style="left:389px">2,0</b><i class="t" style="left:325px">3:2</i><i class="t" style="left:442px">2:1</i><i class="t" style="left:559px">2:1</i><i class="t" style="left:676px">3:1</i><i class="t" style="left:793px">4:2</i><i class="t" style="left:910px">2:3</i><i class="t" style="left:1027px">2:1</i></div>
<div class="r" style="top:1344px"><i class="nm">rosicosy</i><b class="sc sb">2,0</b><i class="p pe" style="left:272px"></i><i class="t" style="left:208px">3:2</i><b class="p o2" style="left:389px">2,0</b><i class="t" style="left:325px">2:1</i><i class="t" style="left:442px">3:1</i><i class="t" style="left:559px">2:0</i><i class="t" style="left:676px">1:0</i><i class="t" style="left:793px">2:0</i><i class="t" style="left:910px">3:2</i><i class="t" style="left:1027px">1:2</i></div>
<div class="r" style="top:1360px"><i class="nm">Salzsee</i><b class="sc sb">2,0</b><i class="p pe" style="left:272px"></i><i class="t" style="left:208px">4:2</i><b class="p o2" style="left:389px">2,0</b><i class="t" style="left:325px">1:0</i><i class="t" style="left:442px">3:1</i><i class="t" style="left:559px">1:2</i><i class="t" style="left:676px">1:0</i><i class="t" style="left:793px">1:2</i><i class="t" style="left:910px">2:3</i><i class="t" style="left:1027px">0:1</i></div>
<div class="r" style="top:1376px"><i class="nm">sportgemeinschaft 53</i><b class="sc sb">2,0</b><i class="p pe" style="left:272px"></i><i class="t" style="left:208px">4:1</i><b class="p o2" style="left:389px">2,0</b><i class="t" style="left:325px">2:1</i><i class="t" style="left:442px">2:0</i><i class="t" style="left:559px">2:1</i><i class="t" style="left:676px">2:0</i><i class="t" style="left:793px">4:0</i><i class="t" style="left:910px">3:1</i><i class="t" style="left:1027px">2:0</i></div>
<div class="r" style="top:1392px"><i class="nm">starwarrior03</i><b class="sc sb">2,0</b><i class="p pe" style="left:272px"></i><i class="t" style="left:208px">3:2</i><b class="p o2" style="left:389px">2,0</b><i class="t" style="left:325px">2:1</i><i class="t" style="left:442px">3:1</i><i class="t" style="left:559px">1:1</i><i class="t" style="left:676px">3:1</i><i class="t" style="left:793px">2:1</i><i class="t" style="left:910px">2:2</i><i class="t" style="left:1027px">1:0</i></div>
<div class="r" style="top:1408px"><i class="nm">Sternzeichen</i><b class="sc sb">2,0</b><i class="p pe" style="left:272px"></i><i class="t" style="left:208px">2:0</i><b class="p o2" style="left:389px">2,0</b><i class="t" style="left:325px">2:1</i><i class="t" style="left:442px">2:0</i><i class="t" style="left:559px">0:1</i><i class="t" style="left:676px">2:1</i><i class="t" style="left:793px">2:1</i><i class="t" style="left:910px">3:1</i><i class="t" style="left:1027px">1:0</i></div>
<div class="r" style="top:1424px"><i class="nm">Teras</i><b class="sc sb">2,0</b><i class="p pe" style="left:272px"></i><i class="t" style="left:208px">3:2</i><b class="p o2" style="left:389px">2,0</b><i class="t" style="left:325px">2:1</i><i class="t" style="left:442px">3:1</i><i class="t" style="left:559px">4:1</i></div>
<div class="r" style="top:1440px"><i class="nm">T-Ice</i><b class="sc sb">2,0</b><i class="p pe" style="left:272px"></i><i class="t" style="left:208px">2:0</i><b class="p o2" style="left:389px">2,0</b><i class="t" style="left:325px">2:1</i><i class="t" style="left:442px">1:1</i><i class="t" style="left:559px">1:0</i><i class="t" style="left:676px">2:2</i><i class="t" style="left:793px">2:0</i><i class="t" style="left:910px">2:1</i><i class="t" style="left:1027px">1:1</i></div>
<div class="r" style="top:1456px"><i class="nm">Tiger</i><b class="sc sb">2,0</b><i class="p pe" style="left:272px"></i><i class="t" style="left:208px">3:1</i><b class="p o2" style="left:389px">2,0</b><i class="t" style="left:325px">1:0</i><i class="t" style="left:442px">2:0</i><i class="t" style="left:559px">1:0</i><i class="t" style="left:676px">2:0</i><i class="t" style="left:793px">3:0</i><i class="t" style="left:910px">2:0</i><i class="t" style="left:1027px">1:0</i></div>
<div class="r" style="top:1472px"><i class="nm">Timchen</i><b class="sc sb">2,0</b><i class="p pe" style="left:272px"></i><i class="t" style="left:208px">2:1</i><b class="p o2" style="left:389px">2,0</b><i class="t" style="left:325px">1:0</i><i class="t" style="left:442px">2:1</i><i class="t" style="left:559px">1:0</i><i class="t" style="left:676px">3:1</i><i class="t" style="left:793px">2:1</i><i class="t" style="left:910px">3:1</i><i class="t" style="left:1027px">2:1</i></div>
<div class="r" style="top:1488px"><i class="nm">twotto</i><b class="sc sb">2,0</b><i class="p pe" style="left:272px"></i><i class="t" style="left:208px">2:1</i><b class="p o2" style="left:389px">2,0</b><i class="t" style="left:325px">2:1</i><i class="t" style="left:442px">2:1</i><i class="t" style="left:559px">2:1</i><i class="t" style="left:676px">3:1</i><i class="t" style="left:793px">3:1</i><i class="t" style="left:910px">2:1</i><i class="t" style="left:1027px">2:1</i></div>
<div class="r" style="top:1504px"><i class="nm">utscheck</i><b class="sc sb">2,0</b><i class="p pe" style="left:272px"></i><i class="t" style="left:208px">0:1</i><b class="p o2" style="left:389px">2,0</b><i class="t" style="left:325px">1:0</i><i class="t" style="left:442px">0:1</i><i class="t" style="left:559px">1:0</i><i class="t" style="left:676px">1:0</i><i class="t" style="left:793px">2:0</i><i class="t" style="left:910px">1:0</i><i class="t" style="left:1027px">1:0</i></div>
<div class="r" style="top:1520px"><i class="nm">vega2000</i><b class="sc sb">2,0</b><i class="p pe" style="left:272px"></i><i class="t" style="left:208px">2:1</i><b class="p o2" style="left:389px">2,0</b><i class="t" style="left:325px">2:1</i><i class="t" style="left:442px">2:1</i><i class="t" style="left:559px">2:1</i><i class="t" style="left:676px">2:1</i><i class="t" style="left:793px">2:1</i><i class="t" style="left:910px">2:1</i><i class="t" style="left:1027px">2:1</i></div>
<div class="r" style="top:1536px"><i class="nm">WahnSee</i><b class="sc sb">2,0</b><i class="p pe" style="left:272px"></i><i class="t" style="left:208px">2:1</i><b class="p o2" style="left:389px">2,0</b><i class="t" style="left:325px">2:1</i><i class="t" style="left:442px">3:2</i><i class="t" style="left:559px">0:1</i><i class="t" style="left:676px">3:1</i><i class="t" style="left:793px">3:0</i><i class="t" style="left:910px">3:1</i><i class="t" style="left:1027px">2:1</i></div>
<div class="r" style="top:1552px"><i class="nm">wildlife</i><b class="sc sb">2,0</b><i class="p pe" style="left:272px"></i><i class="t" style="left:208px">2:0</i><b class="p o2" style="left:389px">2,0</b><i class="t" style="left:325px">2:1</i><i class="t" style="left:442px">2:1</i><i class="t" style="left:559px">1:0</i><i class="t" style="left:676px">2:0</i><i class="t" style="left:793px">3:1</i><i class="t" style="left:910px">2:0</i><i class="t" style="left:1027px">2:1</i></div>
<div class="r" style="top:1568px"><i class="nm">willi marl</i><b class="sc sb">2,0</b><i class="p pe" style="left:272px"></i><i class="t" style="left:208px">3:2</i><b class="p o2" style="left:389px">2,0</b><i class="t" style="left:325px">2:1</i><i class="t" style="left:442px">3:1</i><i class="t" style="left:559px">3:1</i><i class="t" style="left:676px">2:0</i><i class="t" style="left:793px">3:1</i><i class="t" style="left:910px">3:2</i><i class="t" style="left:1027px">1:2</i></div>
<div class="r" style="top:1584px"><i class="nm">Xetra-DAX</i><b class="sc sb">2,0</b><i class="p pe" style="left:272px"></i><i class="t" style="left:208px">3:0</i><b class="p o2" style="left:389px">2,0</b><i class="t" style="left:325px">2:1</i><i class="t" style="left:442px">2:1</i><i class="t" style="left:559px">2:1</i><i class="t" style="left:676px">2:1</i><i class="t" style="left:793px">3:1</i><i class="t" style="left:910px">2:1</i><i class="t" style="left:1027px">2:0</i></div>
<div class="r" style="top:1600px"><i class="nm">007Bond</i><b class="sc sr">0,0</b><i class="p pe" style="left:272px"></i><i class="t" style="left:208px">1:3</i><i class="p pe" style="left:389px"></i><i class="t" style="left:325px">2:3</i><i class="t" style="left:442px">2:3</i><i class="t" style="left:559px">4:1</i><i class="t" style="left:676px">1:2</i><i class="t" style="left:793px">2:1</i><i class="t" style="left:910px">3:1</i><i class="t" style="left:1027px">0:2</i></div>
<div class="r" style="top:1616px"><i class="nm">Aktienhunter</i><b class="sc sr">0,0</b><i class="p pe" style="left:272px"></i><i class="t" style="left:208px">3:2</i><i class="p pe" style="left:389px"></i><i class="t" style="left:325px">2:3</i><i class="t" style="left:442px">2:3</i><i class="t" style="left:559px">2:0</i><i class="t" style="left:676px">3:1</i><i class="t" style="left:793px">2:1</i><i class="t" style="left:910px">2:1</i><i class="t" style="left:1027px">2:3</i></div>
<div class="r" style="top:1632px"><i class="nm">BackhandSmash</i><b class="sc sr">0,0</b><i class="p pe" style="left:272px"></i><i class="t" style="left:208px">3:1</i><i class="p pe" style="left:389px"></i><i class="t" style="left:325px">1:1</i><i class="t" style="left:442px">2:1</i><i class="t" style="left:559px">2:1</i><i class="t" style="left:676px">1:0</i><i class="t" style="left:793px">3:0</i><i class="t" style="left:910px">2:0</i><i class="t" style="left:1027px">2:1</i></div>
<div class="r" style="top:1648px"><i class="nm">bodensee3</i><b class="sc sr">0,0</b><i class="p pe" style="left:272px"></i><i class="t" style="left:208px">3:1</i><i class="p pe" style="left:389px"></i><i class="t" style="left:325px">1:1</i><i class="t" style="left:442px">2:2</i><i class="t" style="left:559px">2:1</i><i class="t" style="left:676px">1:1</i><i class="t" style="left:793px">2:0</i><i class="t" style="left:910px">2:1</i><i class="t" style="left:1027px">2:0</i></div>
<div class="r" style="top:1664px"><i class="nm">boersalino</i><b class="sc sr">0,0</b><i class="p pe" style="left:272px"></i><i class="t" style="left:208px">0:1</i><i class="p pe" style="left:389px"></i><i class="t" style="left:325px">1:2</i><i class="t" style="left:442px">0:1</i><i class="t" style="left:559px">2:1</i><i class="t" style="left:676px">0:1</i><i class="t" style="left:793px">1:2</i><i class="t" style="left:910px">4:0</i><i class="t" style="left:1027px">3:0</i></div>
<div class="r" style="top:1680px"><i class="nm">börsenfurz1</i><b class="sc sr">0,0</b><i class="p pe" style="left:272px"></i><i class="t" style="left:208px">2:0</i><i class="p pe" style="left:389px"></i><i class="t" style="left:325px">0:1</i><i class="t" style="left:442px">3:0</i><i class="t" style="left:559px">1:0</i><i class="t" style="left:676px">3:1</i><i class="t" style="left:793px">2:0</i><i class="t" style="left:910px">4:1</i><i class="t" style="left:1027px">1:0</i></div>
<div class="r" style="top:1696px"><i class="nm">DAXii</i><b class="sc sr">0,0</b><i class="p pe" style="left:272px"></i><i class="t" style="left:208px">2:1</i><i class="p pe" style="left:389px"></i><i class="t" style="left:325px">1:2</i><i class="t" style="left:442px">2:1</i><i class="t" style="left:559px">4:1</i><i class="t" style="left:676px">1:1</i><i class="t" style="left:793px">1:0</i><i class="t" style="left:910px">2:0</i><i class="t" style="left:1027px">2:2</i></div>
<div class="r" style="top:1712px"><i class="nm">Daxjäger</i><b class="sc sr">0,0</b><i class="p pe" style="left:272px"></i><i class="t" style="left:208px">2:1</i><i class="p pe" style="left:389px"></i><i class="t" style="left:325px">1:2</i><i class="t" style="left:442px">2:1</i><i class="t" style="left:559px">2:1</i><i class="t" style="left:676px">3:2</i><i class="t" style="left:793px">3:0</i><i class="t" style="left:910px">3:1</i><i class="t" style="left:1027px">2:1</i></div>
<div class="r" style="top:1728px"><i class="nm">dementia</i><b class="sc sr">0,0</b><i class="p pe" style="left:272px"></i><i class="t" style="left:208px">2:1</i><i class="p pe" style="left:389px"></i><i class="t" style="left:325px">0:2</i><i class="t" style="left:442px">1:0</i><i class="t" style="left:559px">1:0</i><i class="t" style="left:676px">2:1</i><i class="t" style="left:793px">2:0</i><i class="t" style="left:910px">1:0</i><i class="t" style="left:1027px">0:1</i></div>
<div class="r" style="top:1744px"><i class="nm">ermlitz</i><b class="sc sr">0,0</b><i class="p pe" style="left:389px"></i><i class="t" style="left:325px">1:2</i><i class="t" style="left:442px">3:1</i><i class="t" style="left:559px">2:0</i><i class="t" style="left:676px">3:1</i><i class="t" style="left:793px">2:0</i><i class="t" style="left:910px">3:1</i><i class="t" style="left:1027px">0:1</i></div>
<div class="r" style="top:1760px"><i class="nm">Gaertnerin</i><b class="sc sr">0,0</b><i class="p pe" style="left:272px"></i><i class="t" style="left:208px">3:2</i><i class="p pe" style="left:389px"></i><i class="t" style="left:325px">0:1</i><i class="t" style="left:442px">3:0</i><i class="t" style="left:559px">1:0</i><i class="t" style="left:676px">2:2</i><i class="t" style="left:793px">2:0</i><i class="t" style="left:910px">2:1</i><i class="t" style="left:1027px">1:2</i></div>
<div class="r" style="top:1776px"><i class="nm">Glücksschwein4</i><b class="sc sr">0,0</b><i class="p pe" style="left:272px"></i><i class="t" style="left:208px">2:1</i><i class="p pe" style="left:389px"></i><i class="t" style="left:325px">1:1</i><i class="t" style="left:442px">2:1</i><i class="t" style="left:559px">2:1</i><i class="t" style="left:676px">2:1</i><i class="t" style="left:793px">3:1</i><i class="t" style="left:910px">2:2</i><i class="t" style="left:1027px">2:1</i></div>
<div class="r" style="top:1792px"><i class="nm">Guntram2010</i><b class="sc sr">0,0</b><i class="p pe" style="left:272px"></i><i class="t" style="left:208px">2:1</i><i class="p pe" style="left:389px"></i><i class="t" style="left:325px">0:1</i><i class="t" style="left:442px">3:2</i><i class="t" style="left:559px">1:2</i><i class="t" style="left:676px">2:1</i><i class="t" style="left:793px">2:0</i><i class="t" style="left:910px">2:1</i><i class="t" style="left:1027px">2:1</i></div>
<div class="r" style="top:1808px"><i class="nm">Hanging_Man</i><b class="sc sr">0,0</b><i class="p pe" style="left:272px"></i><i class="t" style="left:208px">1:0</i><i class="p pe" style="left:389px"></i><i class="t" style="left:325px">1:3</i><i class="t" style="left:442px">3:1</i><i class="t" style="left:559px">2:1</i><i class="t" style="left:676px">1:0</i><i class="t" style="left:793px">3:1</i><i class="t" style="left:910px">2:0</i><i class="t" style="left:1027px">2:1</i></div>
<div class="r" style="top:1824px"><i class="nm">heduda</i><b class="sc sr">0,0</b><i class="p pe" style="left:272px"></i><i class="t" style="left:208px">2:1</i><i class="p pe" style="left:389px"></i><i class="t" style="left:325px">1:2</i><i class="t" style="left:442px">1:0</i><i class="t" style="left:559px">1:0</i><i class="t" style="left:676px">3:1</i><i class="t" style="left:793px">2:0</i><i class="t" style="left:910px">2:0</i><i class="t" style="left:1027px">2:0</i></div>
<div class="r" style="top:1840px"><i class="nm">HMKaczmarek</i><b class="sc sr">0,0</b><i class="p pe" style="left:272px"></i><i class="t" style="left:208px">2:0</i><i class="p pe" style="left:389px"></i><i class="t" style="left:325px">1:2</i><i class="t" style="left:442px">1:0</i><i class="t" style="left:559px">0:0</i><i class="t" style="left:676px">2:0</i><i class="t" style="left:793px">3:1</i><i class="t" style="left:910px">2:0</i><i class="t" style="left:1027px">1:1</i></div>
<div class="r" style="top:1856px"><i class="nm">jajco1</i><b class="sc sr">0,0</b><i class="p pe" style="left:272px"></i><i class="t" style="left:208px">2:1</i><i class="p pe" style="left:389px"></i><i class="t" style="left:325px">1:2</i><i class="t" style="left:442px">2:1</i><i class="t" style="left:559px">2:1</i><i class="t" style="left:676px">2:0</i><i class="t" style="left:793px">2:0</i><i class="t" style="left:910px">2:1</i><i class="t" style="left:1027px">2:1</i></div>
<div class="r" style="top:1872px"><i class="nm">Jones Dow</i><b class="sc sr">0,0</b><i class="p pe" style="left:272px"></i><i class="t" style="left:208px">2:0</i><i class="p pe" style="left:389px"></i><i class="t" style="left:325px">1:2</i><i class="t" style="left:442px">3:1</i><i class="t" style="left:559px">0:2</i><i class="t" style="left:676px">3:1</i><i class="t" style="left:793px">2:0</i><i class="t" style="left:910px">2:1</i><i class="t" style="left:1027px">2:1</i></div>
<div class="r" style="top:1888px"><i class="nm">Kalle 8</i><b class="sc sr">0,0</b><i class="p pe" style="left:272px"></i><i class="t" style="left:208px">2:1</i><i class="p pe" style="left:389px"></i><i class="t" style="left:325px">1:2</i><i class="t" style="left:442px">2:1</i><i class="t" style="left:559px">1:0</i><i class="t" style="left:676px">2:0</i><i class="t" style="left:793px">3:0</i><i class="t" style="left:910px">2:0</i><i class="t" style="left:1027px">2:1</i></div>
<div class="r" style="top:1904px"><i class="nm">lars_3</i><b class="sc sr">0,0</b><i class="p pe" style="left:272px"></i><i class="t" style="left:208px">2:0</i><i class="p pe" style="left:389px"></i><i class="t" style="left:325px">2:3</i><i class="t" style="left:442px">1:0</i><i class="t" style="left:559px">1:0</i><i class="t" style="left:676px">3:2</i><i class="t" style="left:793px">2:1</i><i class="t" style="left:910px">1:0</i><i class="t" style="left:1027px">1:0</i></div>
<div class="r" style="top:1920px"><i class="nm">longmen</i><b class="sc sr">0,0</b><i class="p pe" style="left:272px"></i><i class="t" style="left:208px">2:0</i><i class="p pe" style="left:389px"></i><i class="t" style="left:325px">2:2</i><i class="t" style="left:442px">2:1</i><i class="t" style="left:559px">3:2</i><i class="t" style="left:676px">2:1</i><i class="t" style="left:793px">3:1</i><i class="t" style="left:910px">3:0</i><i class="t" style="left:1027px">2:0</i></div>
<div class="r" style="top:1936px"><i class="nm">Lumberjack77</i><b class="sc sr">0,0</b><i class="p pe" style="left:272px"></i><i class="t" style="left:208px">2:1</i><i class="p pe" style="left:389px"></i><i class="t" style="left:325px">1:3</i><i class="t" style="left:442px">2:1</i><i class="t" style="left:559px">2:1</i><i class="t" style="left:676px">2:1</i><i class="t" style="left:793px">4:0</i><i class="t" style="left:910px">2:3</i><i class="t" style="left:1027px">1:2</i></div>
<div class="r" style="top:1952px"><i class="nm">Maickel</i><b class="sc sr">0,0</b><i class="p pe" style="left:272px"></i><i class="t" style="left:208px">2:1</i><i class="p pe" style="left:389px"></i><i class="t" style="left:325px">1:2</i><i class="t" style="left:442px">2:1</i><i class="t" style="left:559px">2:1</i><i class="t" style="left:676px">2:1</i><i class="t" style="left:793px">2:1</i><i class="t" style="left:910px">3:1</i><i class="t" style="left:1027px">1:2</i></div>
<div class="r" style="top:1968px"><i class="nm">minicooper</i><b class="sc sr">0,0</b><i class="p pe" style="left:272px"></i><i class="t" style="left:208px">2:1</i><i class="p pe" style="left:389px"></i><i class="t" style="left:325px">1:2</i><i class="t" style="left:442px">2:1</i><i class="t" style="left:559px">2:0</i><i class="t" style="left:676px">3:1</i><i class="t" style="left:793px">3:0</i><i class="t" style="left:910px">2:1</i><i class="t" style="left:1027px">2:1</i></div>
<div class="r" style="top:1984px"><i class="nm">MisterDAX</i><b class="sc sr">0,0</b><i class="p pe" style="left:272px"></i><i class="t" style="left:208px">3:2</i><i class="p pe" style="left:389px"></i><i class="t" style="left:325px">1:2</i><i class="t" style="left:442px">2:1</i><i class="t" style="left:559px">2:1</i><i class="t" style="left:676px">1:0</i><i class="t" style="left:793px">3:2</i><i class="t" style="left:910px">2:1</i><i class="t" style="left:1027px">2:1</i></div>
<div class="r" style="top:2000px"><i class="nm">Moe Szyslak</i><b class="sc sr">0,0</b><i class="p pe" style="left:272px"></i><i class="t" style="left:208px">4:2</i><i class="p pe" style="left:389px"></i><i class="t" style="left:325px">0:1</i><i class="t" style="left:442px">4:1</i><i class="t" style="left:559px">1:0</i><i class="t" style="left:676px">3:0</i><i class="t" style="left:793px">3:0</i><i class="t" style="left:910px">5:3</i><i class="t" style="left:1027px">1:0</i></div>
<div class="r" style="top:2016px"><i class="nm">nixgibts</i><b class="sc sr">0,0</b><i class="p pe" style="left:272px"></i><i class="t" style="left:208px">2:1</i><i class="p pe" style="left:389px"></i><i class="t" style="left:325px">1:2</i><i class="t" style="left:442px">1:2</i><i class="t" style="left:559px">2:1</i><i class="t" style="left:676px">2:1</i><i class="t" style="left:793px">3:0</i><i class="t" style="left:910px">3:1</i><i class="t" style="left:1027px">2:1</i></div>
<div class="r" style="top:2032px"><i class="nm">nono7n</i><b class="sc sr">0,0</b><i class="p pe" style="left:272px"></i><i class="t" style="left:208px">3:1</i><i class="p pe" style="left:389px"></i><i class="t" style="left:325px">1:2</i><i class="t" style="left:442px">2:1</i><i class="t" style="left:559px">2:0</i><i class="t" style="left:676px">3:1</i><i class="t" style="left:793px">2:1</i><i class="t" style="left:910px">1:2</i><i class="t" style="left:1027px">1:2</i></div>
<div class="r" style="top:2048px"><i class="nm">olejensen</i><b class="sc sr">0,0</b><i class="p pe" style="left:272px"></i><i class="t" style="left:208px">2:1</i><i class="p pe" style="left:389px"></i><i class="t" style="left:325px">1:2</i><i class="t" style="left:442px">1:2</i><i class="t" style="left:559px">3:1</i><i class="t" style="left:676px">2:0</i><i class="t" style="left:793px">3:1</i><i class="t" style="left:910px">3:1</i><i class="t" style="left:1027px">2:1</i></div>
<div class="r" style="top:2064px"><i class="nm">Pjöngjang</i><b class="sc sr">0,0</b><i class="p pe" style="left:272px"></i><i class="t" style="left:208px">2:1</i><i class="p pe" style="left:389px"></i><i class="t" style="left:325px">2:2</i><i class="t" style="left:442px">2:1</i><i class="t" style="left:559px">3:1</i><i class="t" style="left:676px">2:1</i><i class="t" style="left:793px">2:0</i><i class="t" style="left:910px">3:0</i><i class="t" style="left:1027px">2:2</i></div>
<div class="r" style="top:2080px"><i class="nm">ranger 100</i><b class="sc sr">0,0</b><i class="p pe" style="left:272px"></i><i class="t" style="left:208px">2:3</i><i class="p pe" style="left:389px"></i><i class="t" style="left:325px">1:2</i><i class="t" style="left:442px">3:1</i><i class="t" style="left:559px">2:0</i><i class="t" style="left:676px">2:1</i><i class="t" style="left:793px">4:1</i><i class="t" style="left:910px">2:1</i><i class="t" style="left:1027px">1:2</i></div>
<div class="r" style="top:2096px"><i class="nm">RichyBerlin</i><b class="sc sr">0,0</b><i class="p pe" style="left:272px"></i><i class="t" style="left:208px">3:2</i><i class="p pe" style="left:389px"></i><i class="t" style="left:325px">1:1</i><i class="t" style="left:442px">3:1</i><i class="t" style="left:559px">2:0</i><i class="t" style="left:676px">4:2</i><i class="t" style="left:793px">4:1</i><i class="t" style="left:910px">4:1</i><i class="t" style="left:1027px">1:2</i></div>
<div class="r" style="top:2112px"><i class="nm">Rosalie</i><b class="sc sr">0,0</b><i class="p pe" style="left:272px"></i><i class="t" style="left:208px">1:2</i><i class="p pe" style="left:389px"></i><i class="t" style="left:325px">1:2</i><i class="t" style="left:442px">3:1</i><i class="t" style="left:559px">4:1</i><i class="t" style="left:676px">3:1</i><i class="t" style="left:793px">3:1</i><i class="t" style="left:910px">2:1</i><i class="t" style="left:1027px">3:1</i></div>
<div class="r" style="top:2128px"><i class="nm">Sarahspatz</i><b class="sc sr">0,0</b><i class="p pe" style="left:272px"></i><i class="t" style="left:208px">1:0</i><i class="p pe" style="left:389px"></i><i class="t" style="left:325px">1:1</i><i class="t" style="left:442px">2:1</i><i class="t" style="left:559px">1:1</i><i class="t" style="left:676px">2:1</i><i class="t" style="left:793px">2:0</i><i class="t" style="left:910px">1:0</i><i class="t" style="left:1027px">1:1</i></div>
<div class="r" style="top:2144px"><i class="nm">Specnaz.</i><b class="sc sr">0,0</b><i class="p pe" style="left:272px"></i><i class="t" style="left:208px">3:2</i><i class="p pe" style="left:389px"></i><i class="t" style="left:325px">1:2</i><i class="t" style="left:442px">3:1</i><i class="t" style="left:559px">4:1</i><i class="t" style="left:676px">0:0</i><i class="t" style="left:793px">5:0</i><i class="t" style="left:910px">2:1</i><i class="t" style="left:1027px">4:2</i></div>
<div class="r" style="top:2160px"><i class="nm">SyncMaster17</i><b class="sc sr">0,0</b><i class="p pe" style="left:272px"></i><i class="t" style="left:208px">3:0</i><i class="p pe" style="left:389px"></i><i class="t" style="left:325px">1:2</i><i class="t" style="left:442px">3:2</i><i class="t" style="left:559px">1:0</i><i class="t" style="left:676px">2:1</i><i class="t" style="left:793px">3:0</i><i class="t" style="left:910px">2:1</i><i class="t" style="left:1027px">2:1</i></div>
<div class="r" style="top:2176px"><i class="nm">tausend unzen</i><b class="sc sr">0,0</b><i class="p pe" style="left:272px"></i><i class="t" style="left:208px">3:1</i><i class="p pe" style="left:389px"></i><i class="t" style="left:325px">2:2</i><i class="t" style="left:442px">2:1</i><i class="t" style="left:559px">3:1</i><i class="t" style="left:676px">3:1</i><i class="t" style="left:793px">3:1</i><i class="t" style="left:910px">3:1</i><i class="t" style="left:1027px">2:1</i></div>
<div class="r" style="top:2192px"><i class="nm">TURBO_BULL</i><b class="sc sr">0,0</b><i class="p pe" style="left:272px"></i><i class="t" style="left:208px">2:1</i><i class="p pe" style="left:389px"></i><i class="t" style="left:325px">0:0</i><i class="t" style="left:442px">4:1</i><i class="t" style="left:559px">2:0</i><i class="t" style="left:676px">1:0</i><i class="t" style="left:793px">2:0</i><i class="t" style="left:910px">2:2</i><i class="t" style="left:1027px">3:2</i></div>
<div class="r" style="top:2208px"><i class="nm">windot</i><b class="sc sr">0,0</b><i class="p pe" style="left:272px"></i><i class="t" style="left:208px">2:1</i><i class="p pe" style="left:389px"></i><i class="t" style="left:325px">1:2</i><i class="t" style="left:442px">2:1</i><i class="t" style="left:559px">2:1</i><i class="t" style="left:676px">3:1</i><i class="t" style="left:793px">2:1</i><i class="t" style="left:910px">3:2</i><i class="t" style="left:1027px">1:4</i></div>
<div class="r" style="top:2224px"><i class="nm">Zickzackmaus</i><b class="sc sr">0,0</b><i class="p pe" style="left:272px"></i><i class="t" style="left:208px">1:0</i><i class="p pe" style="left:389px"></i><i class="t" style="left:325px">2:2</i><i class="t" style="left:442px">2:1</i><i class="t" style="left:559px">3:2</i><i class="t" style="left:676px">3:1</i><i class="t" style="left:793px">4:2</i><i class="t" style="left:910px">3:2</i><i class="t" style="left:1027px">3:2</i></div>
<div class="r" style="top:2240px"><i class="nm">DaBörsler</i><b class="sc sw">0,0</b></div>
<div class="r" style="top:2256px"><i class="nm">darkpassion</i><b class="sc sw">0,0</b></div>
<div class="r" style="top:2272px"><i class="nm">DAX Indikation</i><b class="sc sw">0,0</b></div>
<div class="r" style="top:2288px"><i class="nm">digger2007</i><b class="sc sw">0,0</b></div>
<div class="r" style="top:2304px"><i class="nm">Eric Bancaire</i><b class="sc sw">0,0</b></div>
<div class="r" style="top:2320px"><i class="nm">hyy23x</i><b class="sc sw">0,0</b></div>
<div class="r" style="top:2336px"><i class="nm">kardori</i><b class="sc sw">0,0</b></div>
<div class="r" style="top:2352px"><i class="nm">koelnerschwabe</i><b class="sc sw">0,0</b></div>
<div class="r" style="top:2368px"><i class="nm">maxperformance</i><b class="sc sw">0,0</b></div>
<div class="r" style="top:2384px"><i class="nm">Nasenkalli</i><b class="sc sw">0,0</b></div>
<div class="r" style="top:2400px"><i class="nm">nightfly</i><b class="sc sw">0,0</b></div>
<div class="r" style="top:2416px"><i class="nm">Sapore</i><b class="sc sw">0,0</b></div>
<div class="r" style="top:2432px"><i class="nm">UliTs</i><b class="sc sw">0,0</b></div>
<div class="a" style="left:271px;top:240px;width:1px;height:2208px;background:repeating-linear-gradient(to bottom,#000 0,#000 3px,transparent 3px,transparent 4px)"></div>
<div class="a" style="left:388px;top:240px;width:1px;height:2208px;background:repeating-linear-gradient(to bottom,#000 0,#000 3px,transparent 3px,transparent 4px)"></div>
<div class="a" style="left:505px;top:240px;width:1px;height:2208px;background:repeating-linear-gradient(to bottom,#000 0,#000 3px,transparent 3px,transparent 4px)"></div>
<div class="a" style="left:622px;top:240px;width:1px;height:2208px;background:repeating-linear-gradient(to bottom,#000 0,#000 3px,transparent 3px,transparent 4px)"></div>
<div class="a" style="left:739px;top:240px;width:1px;height:2208px;background:repeating-linear-gradient(to bottom,#000 0,#000 3px,transparent 3px,transparent 4px)"></div>
<div class="a" style="left:856px;top:240px;width:1px;height:2208px;background:repeating-linear-gradient(to bottom,#000 0,#000 3px,transparent 3px,transparent 4px)"></div>
<div class="a" style="left:973px;top:240px;width:1px;height:2208px;background:repeating-linear-gradient(to bottom,#000 0,#000 3px,transparent 3px,transparent 4px)"></div>
<div class="a" style="left:1090px;top:240px;width:1px;height:2208px;background:repeating-linear-gradient(to bottom,#000 0,#000 3px,transparent 3px,transparent 4px)"></div>
<div class="a" style="left:173px;top:240px;width:1px;height:2208px;background:#7030a0"></div>
<div class="a" style="left:175px;top:240px;width:1px;height:2208px;background:#7030a0"></div>
<div class="a" style="left:24px;top:336px;width:1092px;height:1px;background:repeating-linear-gradient(to right,#333 0,#333 1px,transparent 1px,transparent 2px)"></div>
<div class="a" style="left:24px;top:432px;width:1092px;height:1px;background:repeating-linear-gradient(to right,#333 0,#333 1px,transparent 1px,transparent 2px)"></div>
<div class="a" style="left:24px;top:528px;width:1092px;height:1px;background:repeating-linear-gradient(to right,#333 0,#333 1px,transparent 1px,transparent 2px)"></div>
<div class="a" style="left:24px;top:624px;width:1092px;height:1px;background:repeating-linear-gradient(to right,#333 0,#333 1px,transparent 1px,transparent 2px)"></div>
<div class="a" style="left:24px;top:720px;width:1092px;height:1px;background:repeating-linear-gradient(to right,#333 0,#333 1px,transparent 1px,transparent 2px)"></div>
<div class="a" style="left:24px;top:816px;width:1092px;height:1px;background:repeating-linear-gradient(to right,#333 0,#333 1px,transparent 1px,transparent 2px)"></div>
<div class="a" style="left:24px;top:912px;width:1092px;height:1px;background:repeating-linear-gradient(to right,#333 0,#333 1px,transparent 1px,transparent 2px)"></div>
<div class="a" style="left:24px;top:1008px;width:1092px;height:1px;background:repeating-linear-gradient(to right,#333 0,#333 1px,transparent 1px,transparent 2px)"></div>
<div class="a" style="left:24px;top:1104px;width:1092px;height:1px;background:repeating-linear-gradient(to right,#333 0,#333 1px,transparent 1px,transparent 2px)"></div>
<div class="a" style="left:24px;top:1200px;width:1092px;height:1px;background:repeating-linear-gradient(to right,#333 0,#333 1px,transparent 1px,transparent 2px)"></div>
<div class="a" style="left:24px;top:1296px;width:1092px;height:1px;background:repeating-linear-gradient(to right,#333 0,#333 1px,transparent 1px,transparent 2px)"></div>
<div class="a" style="left:24px;top:1392px;width:1092px;height:1px;background:repeating-linear-gradient(to right,#333 0,#333 1px,transparent 1px,transparent 2px)"></div>
<div class="a" style="left:24px;top:1488px;width:1092px;height:1px;background:repeating-linear-gradient(to right,#333 0,#333 1px,transparent 1px,transparent 2px)"></div>
<div class="a" style="left:24px;top:1584px;width:1092px;height:1px;background:repeating-linear-gradient(to right,#333 0,#333 1px,transparent 1px,transparent 2px)"></div>
<div class="a" style="left:24px;top:1680px;width:1092px;height:1px;background:repeating-linear-gradient(to right,#333 0,#333 1px,transparent 1px,transparent 2px)"></div>
<div class="a" style="left:24px;top:1776px;width:1092px;height:1px;background:repeating-linear-gradient(to right,#333 0,#333 1px,transparent 1px,transparent 2px)"></div>
<div class="a" style="left:24px;top:1872px;width:1092px;height:1px;background:repeating-linear-gradient(to right,#333 0,#333 1px,transparent 1px,transparent 2px)"></div>
<div class="a" style="left:24px;top:1968px;width:1092px;height:1px;background:repeating-linear-gradient(to right,#333 0,#333 1px,transparent 1px,transparent 2px)"></div>
<div class="a" style="left:24px;top:2064px;width:1092px;height:1px;background:repeating-linear-gradient(to right,#333 0,#333 1px,transparent 1px,transparent 2px)"></div>
<div class="a" style="left:24px;top:2160px;width:1092px;height:1px;background:repeating-linear-gradient(to right,#333 0,#333 1px,transparent 1px,transparent 2px)"></div>
<div class="a" style="left:24px;top:2256px;width:1092px;height:1px;background:repeating-linear-gradient(to right,#333 0,#333 1px,transparent 1px,transparent 2px)"></div>
<div class="a" style="left:24px;top:2352px;width:1092px;height:1px;background:repeating-linear-gradient(to right,#333 0,#333 1px,transparent 1px,transparent 2px)"></div>
<svg class="a" style="left:0;top:0" width="1135" height="2474"><defs><pattern id="hp" width="4" height="4" patternUnits="userSpaceOnUse"><path d="M-1,5 L5,-1" stroke="#ff6f6f" stroke-width="0.95"/><path d="M-1,1 L1,-1 M3,5 L5,3" stroke="#ff6f6f" stroke-width="0.95"/></pattern></defs>
<rect x="176" y="1744" width="95" height="16" fill="#fff"/><rect x="180" y="1744" width="91" height="16" fill="url(#hp)"/>
<rect x="272" y="1744" width="19" height="16" fill="#a6a6a6"/>
<rect x="176" y="2240" width="95" height="208" fill="#fff"/><rect x="180" y="2240" width="91" height="208" fill="url(#hp)"/>
<rect x="272" y="2240" width="19" height="208" fill="#a6a6a6"/>
<rect x="297" y="2240" width="91" height="208" fill="#fff"/><rect x="297" y="2240" width="91" height="208" fill="url(#hp)"/>
<rect x="389" y="2240" width="19" height="208" fill="#a6a6a6"/>
</svg>
<div class="a" style="left:24px;top:2448px;width:1092px;height:2px;background:linear-gradient(#000 50%,#666 50%)"></div>
<div class="a" style="left:291px;top:240px;width:7px;height:2208px;background:linear-gradient(to right,#dedede 7%,#8a8a8a 21%,#505050 36%,#262626 50%,#505050 64%,#959595 79%,#e0e0e0 93%)"></div>
<div class="a" style="left:408px;top:240px;width:7px;height:2208px;background:linear-gradient(to right,#dedede 7%,#8a8a8a 21%,#505050 36%,#262626 50%,#505050 64%,#959595 79%,#e0e0e0 93%)"></div>
<div class="a" style="left:525px;top:240px;width:7px;height:2208px;background:linear-gradient(to right,#dedede 7%,#8a8a8a 21%,#505050 36%,#262626 50%,#505050 64%,#959595 79%,#e0e0e0 93%)"></div>
<div class="a" style="left:642px;top:240px;width:7px;height:2208px;background:linear-gradient(to right,#dedede 7%,#8a8a8a 21%,#505050 36%,#262626 50%,#505050 64%,#959595 79%,#e0e0e0 93%)"></div>
<div class="a" style="left:759px;top:240px;width:7px;height:2208px;background:linear-gradient(to right,#dedede 7%,#8a8a8a 21%,#505050 36%,#262626 50%,#505050 64%,#959595 79%,#e0e0e0 93%)"></div>
<div class="a" style="left:876px;top:240px;width:7px;height:2208px;background:linear-gradient(to right,#dedede 7%,#8a8a8a 21%,#505050 36%,#262626 50%,#505050 64%,#959595 79%,#e0e0e0 93%)"></div>
<div class="a" style="left:993px;top:240px;width:7px;height:2208px;background:linear-gradient(to right,#dedede 7%,#8a8a8a 21%,#505050 36%,#262626 50%,#505050 64%,#959595 79%,#e0e0e0 93%)"></div>
<div class="a" style="left:1110px;top:240px;width:7px;height:2208px;background:linear-gradient(to right,#dedede 7%,#8a8a8a 21%,#505050 36%,#262626 50%,#505050 64%,#959595 79%,#e0e0e0 93%)"></div>
<div class="a" style="left:24px;top:186px;width:150px;height:48px;background:linear-gradient(to right,#fff,#d8d8d8 50%,#fff)"></div>
<div class="a" style="left:25px;top:187px;width:150px;height:16px;line-height:16px;text-align:center;font-size:11px;color:#000">Sieg</div>
<div class="a" style="left:25px;top:203px;width:150px;height:16px;line-height:16px;text-align:center;font-size:11px;color:#000">Unentschieden</div>
<div class="a" style="left:25px;top:219px;width:150px;height:16px;line-height:16px;text-align:center;font-size:11px;color:#000">Niederlage</div>
<div class="a" style="left:171px;top:113px;width:130px;height:16px;line-height:16px;text-align:center;font-size:12px;font-weight:bold;color:#c00000">28.06.2014, 18:00</div>
<div class="a" style="left:180px;top:127px;width:91px;height:54px;background:linear-gradient(to right,#ebf1de,#fff)"></div>
<div class="a" style="left:271px;top:127px;width:21px;height:53px;background:linear-gradient(to bottom,#fafafa,#d4d4d4 40%,#d4d4d4 60%,#fafafa)"></div>
<svg class="a" style="left:180px;top:129px" width="23" height="16" viewBox="0 0 23 16"><rect x="0.5" y="0.5" width="22" height="15" rx="2.5" fill="#555"/><g transform="translate(2 2) scale(0.95 0.857)"><rect width="20" height="14" fill="#009b3a"/><polygon points="10,2 18,7 10,12 2,7" fill="#fedf00"/><circle cx="10" cy="7" r="3" fill="#002776"/></g></svg>
<div class="a" style="left:206px;top:130px;height:16px;line-height:16px;font-size:12px;letter-spacing:-0.6px;color:#111">Brasilien</div>
<svg class="a" style="left:180px;top:162px" width="23" height="16" viewBox="0 0 23 16"><rect x="0.5" y="0.5" width="22" height="15" rx="2.5" fill="#555"/><g transform="translate(2 2) scale(0.95 0.857)"><rect width="20" height="14" fill="#fff"/><rect y="7" width="20" height="7" fill="#d52b1e"/><rect width="7" height="7" fill="#0039a6"/><circle cx="3.5" cy="3.5" r="1.2" fill="#fff"/></g></svg>
<div class="a" style="left:206px;top:163px;height:16px;line-height:16px;font-size:12px;letter-spacing:-0.6px;color:#111">Chile</div>
<div class="a" style="left:272px;top:129px;width:20px;height:18px;line-height:18px;text-align:center;font-size:16.5px;font-weight:bold">1</div>
<div class="a" style="left:272px;top:162px;width:20px;height:18px;line-height:18px;text-align:center;font-size:16.5px;font-weight:bold">1</div>
<div class="a" style="left:272px;top:144px;width:20px;height:18px;line-height:18px;text-align:center;font-size:15px;font-weight:bold">:</div>
<div class="a" style="left:181px;top:186px;width:89px;height:16px;line-height:16px;padding-top:1px;padding-left:1px;text-align:center;font-size:12px;letter-spacing:1px;font-weight:bold;background:linear-gradient(to right,rgba(255,255,160,0),#ffffc0 50%,rgba(255,255,160,0))">98</div>
<div class="a" style="left:181px;top:202px;width:89px;height:16px;line-height:16px;padding-top:1px;padding-left:1px;text-align:center;font-size:12px;letter-spacing:1px;font-weight:bold;background:linear-gradient(to right,rgba(255,255,0,0),#ffff00 50%,rgba(255,255,0,0))">11</div>
<div class="a" style="left:181px;top:218px;width:89px;height:16px;line-height:16px;padding-top:1px;padding-left:1px;text-align:center;font-size:12px;letter-spacing:1px;font-weight:bold;background:linear-gradient(to right,rgba(255,255,160,0),#ffffc0 50%,rgba(255,255,160,0))">15</div>
<div class="a" style="left:288px;top:113px;width:130px;height:16px;line-height:16px;text-align:center;font-size:12px;font-weight:bold;color:#c00000">28.06.2014, 22:00</div>
<div class="a" style="left:297px;top:127px;width:91px;height:54px;background:linear-gradient(to right,#f2dcdb,#fff)"></div>
<div class="a" style="left:388px;top:127px;width:21px;height:53px;background:linear-gradient(to bottom,#fafafa,#d4d4d4 40%,#d4d4d4 60%,#fafafa)"></div>
<svg class="a" style="left:297px;top:129px" width="23" height="16" viewBox="0 0 23 16"><rect x="0.5" y="0.5" width="22" height="15" rx="2.5" fill="#555"/><g transform="translate(2 2) scale(0.95 0.857)"><rect width="20" height="14" fill="#fcd116"/><rect y="7" width="20" height="3.5" fill="#003893"/><rect y="10.5" width="20" height="3.5" fill="#ce1126"/></g></svg>
<div class="a" style="left:323px;top:130px;height:16px;line-height:16px;font-size:12px;letter-spacing:-0.6px;color:#111">Kolumbien</div>
<svg class="a" style="left:297px;top:162px" width="23" height="16" viewBox="0 0 23 16"><rect x="0.5" y="0.5" width="22" height="15" rx="2.5" fill="#555"/><g transform="translate(2 2) scale(0.95 0.857)"><rect width="20" height="14" fill="#fff"/><rect y="1.5" width="20" height="1.5" fill="#3d6fd0"/><rect y="4.5" width="20" height="1.5" fill="#3d6fd0"/><rect y="7.5" width="20" height="1.5" fill="#3d6fd0"/><rect y="10.5" width="20" height="1.5" fill="#3d6fd0"/><rect width="8" height="8" fill="#fff"/><circle cx="4" cy="4" r="2" fill="#e8c020"/></g></svg>
<div class="a" style="left:323px;top:163px;height:16px;line-height:16px;font-size:12px;letter-spacing:-0.6px;color:#111">Uruguay</div>
<div class="a" style="left:388px;top:129px;width:20px;height:18px;line-height:18px;text-align:center;font-size:16.5px;font-weight:bold">2</div>
<div class="a" style="left:388px;top:162px;width:20px;height:18px;line-height:18px;text-align:center;font-size:16.5px;font-weight:bold">0</div>
<div class="a" style="left:388px;top:144px;width:20px;height:18px;line-height:18px;text-align:center;font-size:15px;font-weight:bold">:</div>
<div class="a" style="left:298px;top:186px;width:89px;height:16px;line-height:16px;padding-top:1px;padding-left:1px;text-align:center;font-size:12px;letter-spacing:1px;font-weight:bold;background:linear-gradient(to right,rgba(255,255,0,0),#ffff00 50%,rgba(255,255,0,0))">81</div>
<div class="a" style="left:298px;top:202px;width:89px;height:16px;line-height:16px;padding-top:1px;padding-left:1px;text-align:center;font-size:12px;letter-spacing:1px;font-weight:bold;background:linear-gradient(to right,rgba(255,255,160,0),#ffffc0 50%,rgba(255,255,160,0))">12</div>
<div class="a" style="left:298px;top:218px;width:89px;height:16px;line-height:16px;padding-top:1px;padding-left:1px;text-align:center;font-size:12px;letter-spacing:1px;font-weight:bold;background:linear-gradient(to right,rgba(255,255,160,0),#ffffc0 50%,rgba(255,255,160,0))">32</div>
<div class="a" style="left:405px;top:113px;width:130px;height:16px;line-height:16px;text-align:center;font-size:12px;font-weight:bold;color:#c00000">29.06.2014, 18:00</div>
<div class="a" style="left:414px;top:127px;width:91px;height:54px;background:linear-gradient(to right,#dce6f1,#fff)"></div>
<div class="a" style="left:505px;top:127px;width:21px;height:53px;background:linear-gradient(to bottom,#fafafa,#d4d4d4 40%,#d4d4d4 60%,#fafafa)"></div>
<svg class="a" style="left:414px;top:129px" width="23" height="16" viewBox="0 0 23 16"><rect x="0.5" y="0.5" width="22" height="15" rx="2.5" fill="#555"/><g transform="translate(2 2) scale(0.95 0.857)"><rect width="20" height="14" fill="#fff"/><rect width="20" height="4.7" fill="#c8102e"/><rect y="9.3" width="20" height="4.7" fill="#2048a0"/></g></svg>
<div class="a" style="left:440px;top:130px;height:16px;line-height:16px;font-size:12px;letter-spacing:-0.6px;color:#111">Niederlande</div>
<svg class="a" style="left:414px;top:162px" width="23" height="16" viewBox="0 0 23 16"><rect x="0.5" y="0.5" width="22" height="15" rx="2.5" fill="#555"/><g transform="translate(2 2) scale(0.95 0.857)"><rect width="20" height="14" fill="#fff"/><rect width="6.7" height="14" fill="#006847"/><rect x="13.3" width="6.7" height="14" fill="#ce1126"/><circle cx="10" cy="7" r="1.5" fill="#8a6a30"/></g></svg>
<div class="a" style="left:440px;top:163px;height:16px;line-height:16px;font-size:12px;letter-spacing:-0.6px;color:#111">Mexiko</div>
<div class="a" style="left:506px;top:144px;width:20px;height:18px;line-height:18px;text-align:center;font-size:15px;font-weight:bold">:</div>
<div class="a" style="left:415px;top:186px;width:89px;height:16px;line-height:16px;padding-top:1px;padding-left:1px;text-align:center;font-size:12px;letter-spacing:1px;font-weight:bold;background:linear-gradient(to right,rgba(255,255,160,0),#ffffc0 50%,rgba(255,255,160,0))">105</div>
<div class="a" style="left:415px;top:202px;width:89px;height:16px;line-height:16px;padding-top:1px;padding-left:1px;text-align:center;font-size:12px;letter-spacing:1px;font-weight:bold;background:linear-gradient(to right,rgba(255,255,160,0),#ffffc0 50%,rgba(255,255,160,0))">5</div>
<div class="a" style="left:415px;top:218px;width:89px;height:16px;line-height:16px;padding-top:1px;padding-left:1px;text-align:center;font-size:12px;letter-spacing:1px;font-weight:bold;background:linear-gradient(to right,rgba(255,255,160,0),#ffffc0 50%,rgba(255,255,160,0))">15</div>
<div class="a" style="left:522px;top:113px;width:130px;height:16px;line-height:16px;text-align:center;font-size:12px;font-weight:bold;color:#c00000">29.06.2014, 22:00</div>
<div class="a" style="left:531px;top:127px;width:91px;height:54px;background:linear-gradient(to right,#ddd9c4,#fff)"></div>
<div class="a" style="left:622px;top:127px;width:21px;height:53px;background:linear-gradient(to bottom,#fafafa,#d4d4d4 40%,#d4d4d4 60%,#fafafa)"></div>
<svg class="a" style="left:531px;top:129px" width="23" height="16" viewBox="0 0 23 16"><rect x="0.5" y="0.5" width="22" height="15" rx="2.5" fill="#555"/><g transform="translate(2 2) scale(0.95 0.857)"><rect width="20" height="14" fill="#002b7f"/><rect y="2.3" width="20" height="9.4" fill="#fff"/><rect y="4.7" width="20" height="4.6" fill="#ce1126"/></g></svg>
<div class="a" style="left:557px;top:130px;height:16px;line-height:16px;font-size:12px;letter-spacing:-0.6px;color:#111">Costa Rica</div>
<svg class="a" style="left:531px;top:162px" width="23" height="16" viewBox="0 0 23 16"><rect x="0.5" y="0.5" width="22" height="15" rx="2.5" fill="#555"/><g transform="translate(2 2) scale(0.95 0.857)"><rect width="20" height="14" fill="#fff"/><rect y="0.0" width="20" height="1.55" fill="#2a6ad0"/><rect y="3.1" width="20" height="1.55" fill="#2a6ad0"/><rect y="6.2" width="20" height="1.55" fill="#2a6ad0"/><rect y="9.3" width="20" height="1.55" fill="#2a6ad0"/><rect y="12.4" width="20" height="1.55" fill="#2a6ad0"/><rect width="8" height="7.8" fill="#2a6ad0"/><rect x="3.2" width="1.6" height="7.8" fill="#fff"/><rect y="3.1" width="8" height="1.6" fill="#fff"/></g></svg>
<div class="a" style="left:557px;top:163px;height:16px;line-height:16px;font-size:12px;letter-spacing:-0.6px;color:#111">Griechenland</div>
<div class="a" style="left:622px;top:144px;width:20px;height:18px;line-height:18px;text-align:center;font-size:15px;font-weight:bold">:</div>
<div class="a" style="left:532px;top:186px;width:89px;height:16px;line-height:16px;padding-top:1px;padding-left:1px;text-align:center;font-size:12px;letter-spacing:1px;font-weight:bold;background:linear-gradient(to right,rgba(255,255,160,0),#ffffc0 50%,rgba(255,255,160,0))">106</div>
<div class="a" style="left:532px;top:202px;width:89px;height:16px;line-height:16px;padding-top:1px;padding-left:1px;text-align:center;font-size:12px;letter-spacing:1px;font-weight:bold;background:linear-gradient(to right,rgba(255,255,160,0),#ffffc0 50%,rgba(255,255,160,0))">7</div>
<div class="a" style="left:532px;top:218px;width:89px;height:16px;line-height:16px;padding-top:1px;padding-left:1px;text-align:center;font-size:12px;letter-spacing:1px;font-weight:bold;background:linear-gradient(to right,rgba(255,255,160,0),#ffffc0 50%,rgba(255,255,160,0))">12</div>
<div class="a" style="left:639px;top:113px;width:130px;height:16px;line-height:16px;text-align:center;font-size:12px;font-weight:bold;color:#c00000">30.06.2014, 18:00</div>
<div class="a" style="left:648px;top:127px;width:91px;height:54px;background:linear-gradient(to right,#fde9d9,#fff)"></div>
<div class="a" style="left:739px;top:127px;width:21px;height:53px;background:linear-gradient(to bottom,#fafafa,#d4d4d4 40%,#d4d4d4 60%,#fafafa)"></div>
<svg class="a" style="left:648px;top:129px" width="23" height="16" viewBox="0 0 23 16"><rect x="0.5" y="0.5" width="22" height="15" rx="2.5" fill="#555"/><g transform="translate(2 2) scale(0.95 0.857)"><rect width="20" height="14" fill="#fff"/><rect width="6.7" height="14" fill="#002395"/><rect x="13.3" width="6.7" height="14" fill="#ed2939"/></g></svg>
<div class="a" style="left:674px;top:130px;height:16px;line-height:16px;font-size:12px;letter-spacing:-0.6px;color:#111">Frankreich</div>
<svg class="a" style="left:648px;top:162px" width="23" height="16" viewBox="0 0 23 16"><rect x="0.5" y="0.5" width="22" height="15" rx="2.5" fill="#555"/><g transform="translate(2 2) scale(0.95 0.857)"><rect width="20" height="14" fill="#fff"/><rect width="6.7" height="14" fill="#008751"/><rect x="13.3" width="6.7" height="14" fill="#008751"/></g></svg>
<div class="a" style="left:674px;top:163px;height:16px;line-height:16px;font-size:12px;letter-spacing:-0.6px;color:#111">Nigeria</div>
<div class="a" style="left:740px;top:144px;width:20px;height:18px;line-height:18px;text-align:center;font-size:15px;font-weight:bold">:</div>
<div class="a" style="left:649px;top:186px;width:89px;height:16px;line-height:16px;padding-top:1px;padding-left:1px;text-align:center;font-size:12px;letter-spacing:1px;font-weight:bold;background:linear-gradient(to right,rgba(255,255,160,0),#ffffc0 50%,rgba(255,255,160,0))">111</div>
<div class="a" style="left:649px;top:202px;width:89px;height:16px;line-height:16px;padding-top:1px;padding-left:1px;text-align:center;font-size:12px;letter-spacing:1px;font-weight:bold;background:linear-gradient(to right,rgba(255,255,160,0),#ffffc0 50%,rgba(255,255,160,0))">7</div>
<div class="a" style="left:649px;top:218px;width:89px;height:16px;line-height:16px;padding-top:1px;padding-left:1px;text-align:center;font-size:12px;letter-spacing:1px;font-weight:bold;background:linear-gradient(to right,rgba(255,255,160,0),#ffffc0 50%,rgba(255,255,160,0))">6</div>
<div class="a" style="left:756px;top:113px;width:130px;height:16px;line-height:16px;text-align:center;font-size:12px;font-weight:bold;color:#c00000">30.06.2014, 22:00</div>
<div class="a" style="left:765px;top:127px;width:91px;height:54px;background:linear-gradient(to right,#daeef3,#fff)"></div>
<div class="a" style="left:856px;top:127px;width:21px;height:53px;background:linear-gradient(to bottom,#fafafa,#d4d4d4 40%,#d4d4d4 60%,#fafafa)"></div>
<svg class="a" style="left:765px;top:129px" width="23" height="16" viewBox="0 0 23 16"><rect x="0.5" y="0.5" width="22" height="15" rx="2.5" fill="#555"/><g transform="translate(2 2) scale(0.95 0.857)"><rect width="20" height="14" fill="#000"/><rect y="4.7" width="20" height="4.7" fill="#dd0000"/><rect y="9.3" width="20" height="4.7" fill="#ffce00"/></g></svg>
<div class="a" style="left:791px;top:130px;height:16px;line-height:16px;font-size:12px;letter-spacing:-0.6px;color:#111">Deutschland</div>
<svg class="a" style="left:765px;top:162px" width="23" height="16" viewBox="0 0 23 16"><rect x="0.5" y="0.5" width="22" height="15" rx="2.5" fill="#555"/><g transform="translate(2 2) scale(0.95 0.857)"><rect width="20" height="14" fill="#fff"/><rect width="10" height="14" fill="#006233"/><circle cx="10" cy="7" r="3" fill="#d21034"/><circle cx="11" cy="7" r="2.5" fill="#fff"/></g></svg>
<div class="a" style="left:791px;top:163px;height:16px;line-height:16px;font-size:12px;letter-spacing:-0.6px;color:#111">Algerien</div>
<div class="a" style="left:856px;top:144px;width:20px;height:18px;line-height:18px;text-align:center;font-size:15px;font-weight:bold">:</div>
<div class="a" style="left:766px;top:186px;width:89px;height:16px;line-height:16px;padding-top:1px;padding-left:1px;text-align:center;font-size:12px;letter-spacing:1px;font-weight:bold;background:linear-gradient(to right,rgba(255,255,160,0),#ffffc0 50%,rgba(255,255,160,0))">119</div>
<div class="a" style="left:766px;top:202px;width:89px;height:16px;line-height:16px;padding-top:1px;padding-left:1px;text-align:center;font-size:12px;letter-spacing:1px;font-weight:bold;background:linear-gradient(to right,rgba(255,255,160,0),#ffffc0 50%,rgba(255,255,160,0))">1</div>
<div class="a" style="left:766px;top:218px;width:89px;height:16px;line-height:16px;padding-top:1px;padding-left:1px;text-align:center;font-size:12px;letter-spacing:1px;font-weight:bold;background:linear-gradient(to right,rgba(255,255,160,0),#ffffc0 50%,rgba(255,255,160,0))">4</div>
<div class="a" style="left:873px;top:113px;width:130px;height:16px;line-height:16px;text-align:center;font-size:12px;font-weight:bold;color:#c00000">01.07.2014, 18:00</div>
<div class="a" style="left:882px;top:127px;width:91px;height:54px;background:linear-gradient(to right,#f2f2f2,#fff)"></div>
<div class="a" style="left:973px;top:127px;width:21px;height:53px;background:linear-gradient(to bottom,#fafafa,#d4d4d4 40%,#d4d4d4 60%,#fafafa)"></div>
<svg class="a" style="left:882px;top:129px" width="23" height="16" viewBox="0 0 23 16"><rect x="0.5" y="0.5" width="22" height="15" rx="2.5" fill="#555"/><g transform="translate(2 2) scale(0.95 0.857)"><rect width="20" height="14" fill="#fff"/><rect width="20" height="4.7" fill="#74acdf"/><rect y="9.3" width="20" height="4.7" fill="#74acdf"/><circle cx="10" cy="7" r="1.3" fill="#f6b40e"/></g></svg>
<div class="a" style="left:908px;top:130px;height:16px;line-height:16px;font-size:12px;letter-spacing:-0.6px;color:#111">Argentinien</div>
<svg class="a" style="left:882px;top:162px" width="23" height="16" viewBox="0 0 23 16"><rect x="0.5" y="0.5" width="22" height="15" rx="2.5" fill="#555"/><g transform="translate(2 2) scale(0.95 0.857)"><rect width="20" height="14" fill="#fff"/><rect x="3" width="14" height="14" fill="#ff0000"/><rect x="8.8" y="3" width="2.4" height="8" fill="#fff"/><rect x="6" y="5.8" width="8" height="2.4" fill="#fff"/></g></svg>
<div class="a" style="left:908px;top:163px;height:16px;line-height:16px;font-size:12px;letter-spacing:-0.6px;color:#111">Schweiz</div>
<div class="a" style="left:974px;top:144px;width:20px;height:18px;line-height:18px;text-align:center;font-size:15px;font-weight:bold">:</div>
<div class="a" style="left:883px;top:186px;width:89px;height:16px;line-height:16px;padding-top:1px;padding-left:1px;text-align:center;font-size:12px;letter-spacing:1px;font-weight:bold;background:linear-gradient(to right,rgba(255,255,160,0),#ffffc0 50%,rgba(255,255,160,0))">105</div>
<div class="a" style="left:883px;top:202px;width:89px;height:16px;line-height:16px;padding-top:1px;padding-left:1px;text-align:center;font-size:12px;letter-spacing:1px;font-weight:bold;background:linear-gradient(to right,rgba(255,255,160,0),#ffffc0 50%,rgba(255,255,160,0))">6</div>
<div class="a" style="left:883px;top:218px;width:89px;height:16px;line-height:16px;padding-top:1px;padding-left:1px;text-align:center;font-size:12px;letter-spacing:1px;font-weight:bold;background:linear-gradient(to right,rgba(255,255,160,0),#ffffc0 50%,rgba(255,255,160,0))">13</div>
<div class="a" style="left:990px;top:113px;width:130px;height:16px;line-height:16px;text-align:center;font-size:12px;font-weight:bold;color:#c00000">01.07.2014, 22:00</div>
<div class="a" style="left:999px;top:127px;width:91px;height:54px;background:linear-gradient(to right,#ccffff,#fff)"></div>
<div class="a" style="left:1090px;top:127px;width:21px;height:53px;background:linear-gradient(to bottom,#fafafa,#d4d4d4 40%,#d4d4d4 60%,#fafafa)"></div>
<svg class="a" style="left:999px;top:129px" width="23" height="16" viewBox="0 0 23 16"><rect x="0.5" y="0.5" width="22" height="15" rx="2.5" fill="#555"/><g transform="translate(2 2) scale(0.95 0.857)"><rect width="20" height="14" fill="#000"/><rect x="6.7" width="6.6" height="14" fill="#fdda24"/><rect x="13.3" width="6.7" height="14" fill="#ef3340"/></g></svg>
<div class="a" style="left:1025px;top:130px;height:16px;line-height:16px;font-size:12px;letter-spacing:-0.6px;color:#111">Belgien</div>
<svg class="a" style="left:999px;top:162px" width="23" height="16" viewBox="0 0 23 16"><rect x="0.5" y="0.5" width="22" height="15" rx="2.5" fill="#555"/><g transform="translate(2 2) scale(0.95 0.857)"><rect width="20" height="14" fill="#fff"/><rect y="0.0" width="20" height="1.08" fill="#c83040"/><rect y="2.15" width="20" height="1.08" fill="#c83040"/><rect y="4.3" width="20" height="1.08" fill="#c83040"/><rect y="6.449999999999999" width="20" height="1.08" fill="#c83040"/><rect y="8.6" width="20" height="1.08" fill="#c83040"/><rect y="10.75" width="20" height="1.08" fill="#c83040"/><rect y="12.899999999999999" width="20" height="1.08" fill="#c83040"/><rect width="9" height="7.5" fill="#3c3b6e"/></g></svg>
<div class="a" style="left:1025px;top:163px;height:16px;line-height:16px;font-size:12px;letter-spacing:-0.6px;color:#111">USA</div>
<div class="a" style="left:1090px;top:144px;width:20px;height:18px;line-height:18px;text-align:center;font-size:15px;font-weight:bold">:</div>
<div class="a" style="left:1000px;top:186px;width:89px;height:16px;line-height:16px;padding-top:1px;padding-left:1px;text-align:center;font-size:12px;letter-spacing:1px;font-weight:bold;background:linear-gradient(to right,rgba(255,255,160,0),#ffffc0 50%,rgba(255,255,160,0))">86</div>
<div class="a" style="left:1000px;top:202px;width:89px;height:16px;line-height:16px;padding-top:1px;padding-left:1px;text-align:center;font-size:12px;letter-spacing:1px;font-weight:bold;background:linear-gradient(to right,rgba(255,255,160,0),#ffffc0 50%,rgba(255,255,160,0))">12</div>
<div class="a" style="left:1000px;top:218px;width:89px;height:16px;line-height:16px;padding-top:1px;padding-left:1px;text-align:center;font-size:12px;letter-spacing:1px;font-weight:bold;background:linear-gradient(to right,rgba(255,255,160,0),#ffffc0 50%,rgba(255,255,160,0))">26</div>
<svg class="a" style="left:25px;top:93px" width="149" height="87" viewBox="0 0 149 87">
<defs>
<linearGradient id="rv" x1="0" y1="0" x2="0" y2="87" gradientUnits="userSpaceOnUse"><stop offset="0" stop-color="#fff"/><stop offset="0.5" stop-color="#ffc000"/><stop offset="1" stop-color="#fff"/></linearGradient>
<linearGradient id="rh" x1="0" y1="0" x2="149" y2="0" gradientUnits="userSpaceOnUse"><stop offset="0" stop-color="#fff"/><stop offset="0.5" stop-color="#ffc000"/><stop offset="1" stop-color="#fff"/></linearGradient>
</defs>
<rect x="0" y="0" width="149" height="87" fill="url(#rh)"/>
<polygon points="0,0 149,0 74.5,43.5" fill="url(#rv)"/>
<polygon points="0,87 149,87 74.5,43.5" fill="url(#rv)"/>
</svg>
<div class="a" style="left:40px;top:120px;width:120px;height:30px;line-height:30px;text-align:center;font-family:'Liberation Serif',serif;font-style:italic;font-weight:normal;font-size:26px;-webkit-text-stroke:0.7px #000;word-spacing:-3px;transform:rotate(-37deg)">Runde 4</div>
<div class="a" style="left:598px;top:91px;height:16px;line-height:16px;font-size:13px;font-weight:bold">Status:</div>
<div class="a" style="left:651px;top:91px;height:16px;line-height:16px;font-size:10.5px;font-weight:bold;color:#111">28.06.2014 23:55</div>
<div class="a" style="left:110px;top:27px;height:40px;line-height:40px;font-family:'Liberation Serif',serif;font-weight:bold;font-size:36px;white-space:nowrap;transform-origin:0 0;transform:scaleX(1.12);letter-spacing:2.7px;-webkit-text-stroke:0.5px #000">Fußball Weltmeisterschaft 2014</div>
<div class="a" style="left:774px;top:31px;height:30px;line-height:30px;font-weight:bold;font-size:22px;color:#6b0f3c;white-space:nowrap">-Tippspiel -</div>
<div class="a" style="left:911px;top:33px;height:30px;line-height:30px;font-weight:bold;font-size:24.3px;color:#0070c0;white-space:nowrap;transform-origin:0 0;transform:scaleX(0.962);-webkit-text-stroke:1.3px #0070c0">ACHTELFINALE</div>
<svg class="a" style="left:1036px;top:10px" width="88" height="21" viewBox="0 0 88 21">
<path d="M10,0.5 H62 L54,20 H4 Q0.5,20 1.5,17 L7,3 Q8,0.5 10,0.5 Z" fill="#000"/>
<path d="M62,0.5 H85 Q88,0.5 87,3.5 L82,17 Q81,20 77,20 H54 Z" fill="#dd0018"/>
<text x="10" y="16" font-family="Liberation Sans" font-style="italic" font-size="15" fill="#fff" letter-spacing="0.3">ARIVA</text>
<text x="55" y="16" font-family="Liberation Sans" font-style="italic" font-size="15" fill="#fff">.DE</text>
</svg>
<svg class="a" style="left:18px;top:12px" width="70" height="70" viewBox="0 0 70 70">
<defs>
<linearGradient id="lg1" x1="0" y1="0" x2="1" y2="1"><stop offset="0" stop-color="#ffd000"/><stop offset="1" stop-color="#ff9a00"/></linearGradient>
<linearGradient id="lg2" x1="0" y1="0" x2="1" y2="0"><stop offset="0" stop-color="#1d7a10"/><stop offset="0.6" stop-color="#7ccc20"/><stop offset="1" stop-color="#2a8a10"/></linearGradient>
</defs>
<g transform="translate(0 1.1) scale(1 0.78)">
<path d="M21,22 C18,10 30,4 38,5 C46,6 48,12 46,17 C44,14 40,12 36,12 C30,12 26,15 23,21 Z" fill="url(#lg2)"/>
<path d="M36,8 L45,16 L44,19 L35,11Z M38,14 L43,19 L42,21 L37,16Z" fill="#a8e050"/>
<path d="M25,11 L33,13 L32,15 L24,13Z" fill="#ff7fa8"/>
<path d="M21,23 C24,20 27,20 28,22 L33,30 C35,28 40,26 46,22 C44,30 40,34 38,40 C36,46 38,52 44,58 L36,57 C32,50 30,44 29,38 C26,34 23,29 21,23Z" fill="url(#lg1)"/>
<path d="M27,33 C30,40 30,50 27,58 C33,62 40,61 45,57 C38,56 34,50 33,44 C32,40 30,36 27,33Z" fill="#3c9c18"/>
<path d="M21,58 L26,50 L28,58Z" fill="#2a8a10"/>
<text x="39" y="27" font-family="Liberation Sans" font-weight="bold" font-size="6" fill="#d0101a" transform="rotate(-20 39 27)">2014</text></g>
<text x="32.5" y="58" text-anchor="middle" font-family="Liberation Sans" font-weight="bold" font-size="5.6" letter-spacing="0.4" fill="#1a2a78" transform="translate(0 0) scale(1 1)">FIFA WORLD CUP</text>
<text x="33" y="65" text-anchor="middle" font-family="Liberation Sans" font-weight="bold" font-size="6.3" fill="#2a8a1a">Brasil</text>
</svg>
</body></html>
